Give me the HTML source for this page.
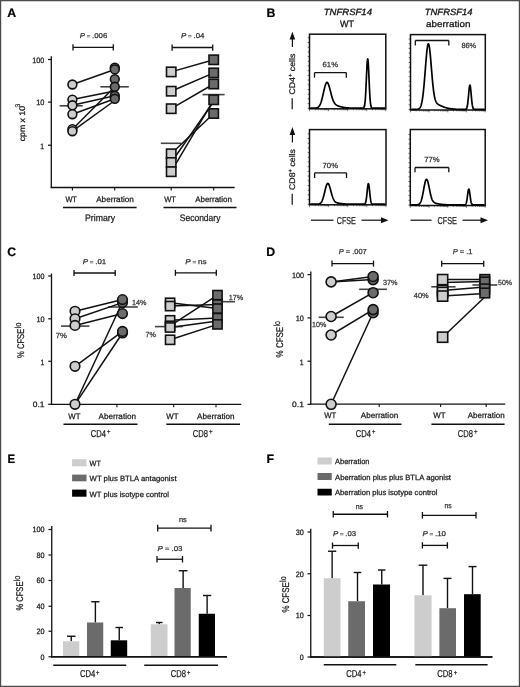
<!DOCTYPE html>
<html><head><meta charset="utf-8"><style>
html,body{margin:0;padding:0;background:#fff;overflow:hidden;width:520px;height:687px;}
svg{display:block;font-family:"Liberation Sans", sans-serif;filter:grayscale(1);text-rendering:geometricPrecision;}
</style></head><body>
<svg width="520" height="687" viewBox="0 0 520 687">
<rect x="0" y="0" width="520" height="687" fill="#fff"/>
<line x1="0.00" y1="0.60" x2="520.00" y2="0.60" stroke="#4a4a4a" stroke-width="1.2"/>
<line x1="0.60" y1="0.00" x2="0.60" y2="687.00" stroke="#4a4a4a" stroke-width="1.2"/>
<line x1="519.40" y1="0.00" x2="519.40" y2="687.00" stroke="#4a4a4a" stroke-width="1.2"/>
<line x1="0.00" y1="686.40" x2="520.00" y2="686.40" stroke="#4a4a4a" stroke-width="1.2"/>
<text transform="translate(7.2,16.9) scale(1,1)" font-size="12.3" font-weight="bold" fill="#000" stroke="#000" stroke-width="0.2">A</text>
<text transform="translate(266.4,17.0) scale(1,1)" font-size="12.3" font-weight="bold" fill="#000" stroke="#000" stroke-width="0.2">B</text>
<text transform="translate(7.2,255.6) scale(1,1)" font-size="12.3" font-weight="bold" fill="#000" stroke="#000" stroke-width="0.2">C</text>
<text transform="translate(266.3,255.6) scale(1,1)" font-size="12.3" font-weight="bold" fill="#000" stroke="#000" stroke-width="0.2">D</text>
<text transform="translate(7.5,462.8) scale(0.93,1)" font-size="12.3" font-weight="bold" fill="#000" stroke="#000" stroke-width="0.2">E</text>
<text transform="translate(266.4,462.8) scale(1,1)" font-size="12.3" font-weight="bold" fill="#000" stroke="#000" stroke-width="0.2">F</text>
<line x1="51.30" y1="56.30" x2="51.30" y2="188.10" stroke="#111" stroke-width="1.3"/>
<line x1="50.65" y1="187.50" x2="234.60" y2="187.50" stroke="#111" stroke-width="1.3"/>
<line x1="48.00" y1="59.50" x2="51.30" y2="59.50" stroke="#111" stroke-width="1.2"/>
<line x1="48.00" y1="102.10" x2="51.30" y2="102.10" stroke="#111" stroke-width="1.2"/>
<line x1="48.00" y1="145.20" x2="51.30" y2="145.20" stroke="#111" stroke-width="1.2"/>
<text x="32.30" y="62.80" font-size="7.8" fill="#1a1a1a" stroke="#1a1a1a" stroke-width="0.25" font-weight="normal" font-style="normal" textLength="12.10" lengthAdjust="spacingAndGlyphs">100</text>
<text x="36.20" y="105.40" font-size="7.8" fill="#1a1a1a" stroke="#1a1a1a" stroke-width="0.25" font-weight="normal" font-style="normal" textLength="8.20" lengthAdjust="spacingAndGlyphs">10</text>
<text x="40.20" y="148.50" font-size="7.8" fill="#1a1a1a" stroke="#1a1a1a" stroke-width="0.25" font-weight="normal" font-style="normal" textLength="3.80" lengthAdjust="spacingAndGlyphs">1</text>
<text transform="translate(24.60,141.30) rotate(-90)" x="0" y="0" font-size="8.2" fill="#1a1a1a" stroke="#1a1a1a" stroke-width="0.25" textLength="35.30" lengthAdjust="spacingAndGlyphs">cpm x 10</text>
<text transform="translate(20.3,107.6) rotate(-90)" font-size="6.8" fill="#1a1a1a" stroke="#1a1a1a" stroke-width="0.2">3</text>
<line x1="72.40" y1="187.50" x2="72.40" y2="190.60" stroke="#111" stroke-width="1.1"/>
<line x1="114.70" y1="187.50" x2="114.70" y2="190.60" stroke="#111" stroke-width="1.1"/>
<line x1="171.20" y1="187.50" x2="171.20" y2="190.60" stroke="#111" stroke-width="1.1"/>
<line x1="213.70" y1="187.50" x2="213.70" y2="190.60" stroke="#111" stroke-width="1.1"/>
<text x="65.40" y="202.10" font-size="8" fill="#1a1a1a" stroke="#1a1a1a" stroke-width="0.25" font-weight="normal" font-style="normal" textLength="11.50" lengthAdjust="spacingAndGlyphs">WT</text>
<text x="96.20" y="202.10" font-size="8" fill="#1a1a1a" stroke="#1a1a1a" stroke-width="0.25" font-weight="normal" font-style="normal" textLength="37.60" lengthAdjust="spacingAndGlyphs">Aberration</text>
<text x="164.20" y="202.10" font-size="8" fill="#1a1a1a" stroke="#1a1a1a" stroke-width="0.25" font-weight="normal" font-style="normal" textLength="11.80" lengthAdjust="spacingAndGlyphs">WT</text>
<text x="195.20" y="202.10" font-size="8" fill="#1a1a1a" stroke="#1a1a1a" stroke-width="0.25" font-weight="normal" font-style="normal" textLength="36.80" lengthAdjust="spacingAndGlyphs">Aberration</text>
<line x1="63.00" y1="207.60" x2="136.60" y2="207.60" stroke="#111" stroke-width="1.5"/>
<line x1="163.50" y1="207.60" x2="236.50" y2="207.60" stroke="#111" stroke-width="1.5"/>
<text x="85.00" y="220.50" font-size="9.4" fill="#1a1a1a" stroke="#1a1a1a" stroke-width="0.25" font-weight="normal" font-style="normal" textLength="30.00" lengthAdjust="spacingAndGlyphs">Primary</text>
<text x="179.80" y="220.50" font-size="9.4" fill="#1a1a1a" stroke="#1a1a1a" stroke-width="0.25" font-weight="normal" font-style="normal" textLength="40.60" lengthAdjust="spacingAndGlyphs">Secondary</text>
<text x="79.80" y="38.00" font-size="7" fill="#333" stroke="#333" stroke-width="0.25" textLength="27.50" lengthAdjust="spacingAndGlyphs"><tspan font-style="italic">P</tspan><tspan font-size="5.60" fill="#666" stroke="#666"> = </tspan>.006</text>
<text x="181.00" y="38.00" font-size="7" fill="#333" stroke="#333" stroke-width="0.25" textLength="23.40" lengthAdjust="spacingAndGlyphs"><tspan font-style="italic">P</tspan><tspan font-size="5.60" fill="#666" stroke="#666"> = </tspan>.04</text>
<line x1="73.00" y1="47.30" x2="113.30" y2="47.30" stroke="#111" stroke-width="1.3"/>
<line x1="73.00" y1="44.30" x2="73.00" y2="50.50" stroke="#111" stroke-width="1.3"/>
<line x1="113.30" y1="44.30" x2="113.30" y2="50.50" stroke="#111" stroke-width="1.3"/>
<line x1="172.10" y1="47.50" x2="212.70" y2="47.50" stroke="#111" stroke-width="1.3"/>
<line x1="172.10" y1="44.50" x2="172.10" y2="50.70" stroke="#111" stroke-width="1.3"/>
<line x1="212.70" y1="44.50" x2="212.70" y2="50.70" stroke="#111" stroke-width="1.3"/>
<line x1="59.60" y1="105.80" x2="82.70" y2="105.80" stroke="#444" stroke-width="1.6"/>
<line x1="100.40" y1="86.80" x2="128.80" y2="86.80" stroke="#444" stroke-width="1.6"/>
<line x1="72.40" y1="84.50" x2="114.80" y2="69.50" stroke="#111" stroke-width="1.5"/>
<line x1="72.40" y1="99.60" x2="114.80" y2="91.00" stroke="#111" stroke-width="1.5"/>
<line x1="72.40" y1="105.30" x2="114.80" y2="95.80" stroke="#111" stroke-width="1.5"/>
<line x1="72.40" y1="114.20" x2="114.80" y2="98.80" stroke="#111" stroke-width="1.5"/>
<line x1="72.40" y1="129.20" x2="114.80" y2="86.80" stroke="#111" stroke-width="1.5"/>
<line x1="72.40" y1="131.20" x2="114.80" y2="100.50" stroke="#111" stroke-width="1.5"/>
<circle cx="72.40" cy="84.50" r="4.4" fill="#cdcdcd" stroke="#111" stroke-width="1.6"/>
<circle cx="72.40" cy="99.60" r="4.4" fill="#cdcdcd" stroke="#111" stroke-width="1.6"/>
<circle cx="72.40" cy="105.30" r="4.4" fill="#cdcdcd" stroke="#111" stroke-width="1.6"/>
<circle cx="72.40" cy="114.20" r="4.4" fill="#cdcdcd" stroke="#111" stroke-width="1.6"/>
<circle cx="72.40" cy="129.20" r="4.4" fill="#cdcdcd" stroke="#111" stroke-width="1.6"/>
<circle cx="72.40" cy="131.20" r="4.4" fill="#cdcdcd" stroke="#111" stroke-width="1.6"/>
<circle cx="114.80" cy="67.60" r="4.4" fill="#6b6b6b" stroke="#111" stroke-width="1.6"/>
<circle cx="114.80" cy="69.40" r="4.4" fill="#6b6b6b" stroke="#111" stroke-width="1.6"/>
<circle cx="114.80" cy="79.10" r="4.4" fill="#6b6b6b" stroke="#111" stroke-width="1.6"/>
<circle cx="114.80" cy="86.80" r="4.4" fill="#6b6b6b" stroke="#111" stroke-width="1.6"/>
<circle cx="114.80" cy="95.80" r="4.4" fill="#6b6b6b" stroke="#111" stroke-width="1.6"/>
<circle cx="114.80" cy="98.80" r="4.4" fill="#6b6b6b" stroke="#111" stroke-width="1.6"/>
<line x1="160.80" y1="143.30" x2="181.30" y2="143.30" stroke="#444" stroke-width="1.6"/>
<line x1="202.50" y1="94.60" x2="224.60" y2="94.60" stroke="#444" stroke-width="1.6"/>
<line x1="171.20" y1="71.90" x2="213.70" y2="59.80" stroke="#111" stroke-width="1.5"/>
<line x1="171.20" y1="91.20" x2="213.70" y2="72.90" stroke="#111" stroke-width="1.5"/>
<line x1="171.20" y1="108.70" x2="213.70" y2="84.00" stroke="#111" stroke-width="1.5"/>
<line x1="171.20" y1="153.80" x2="213.70" y2="113.50" stroke="#111" stroke-width="1.5"/>
<line x1="171.20" y1="162.50" x2="213.70" y2="101.50" stroke="#111" stroke-width="1.5"/>
<line x1="171.20" y1="171.70" x2="213.70" y2="99.80" stroke="#111" stroke-width="1.5"/>
<rect x="166.50" y="67.20" width="9.4" height="9.4" fill="#cdcdcd" stroke="#111" stroke-width="1.6"/>
<rect x="166.50" y="86.50" width="9.4" height="9.4" fill="#cdcdcd" stroke="#111" stroke-width="1.6"/>
<rect x="166.50" y="104.00" width="9.4" height="9.4" fill="#cdcdcd" stroke="#111" stroke-width="1.6"/>
<rect x="166.50" y="149.10" width="9.4" height="9.4" fill="#cdcdcd" stroke="#111" stroke-width="1.6"/>
<rect x="166.50" y="157.80" width="9.4" height="9.4" fill="#cdcdcd" stroke="#111" stroke-width="1.6"/>
<rect x="166.50" y="167.00" width="9.4" height="9.4" fill="#cdcdcd" stroke="#111" stroke-width="1.6"/>
<rect x="209.00" y="55.10" width="9.4" height="9.4" fill="#6b6b6b" stroke="#111" stroke-width="1.6"/>
<rect x="209.00" y="68.20" width="9.4" height="9.4" fill="#6b6b6b" stroke="#111" stroke-width="1.6"/>
<rect x="209.00" y="79.30" width="9.4" height="9.4" fill="#6b6b6b" stroke="#111" stroke-width="1.6"/>
<rect x="209.00" y="95.10" width="9.4" height="9.4" fill="#6b6b6b" stroke="#111" stroke-width="1.6"/>
<rect x="209.00" y="108.80" width="9.4" height="9.4" fill="#6b6b6b" stroke="#111" stroke-width="1.6"/>
<g>
<text x="323.7" y="14.8" font-size="9" font-style="italic" fill="#111" stroke="#111" stroke-width="0.3" textLength="48.3" lengthAdjust="spacingAndGlyphs">TNFRSF14</text>
<text x="339.90" y="26.90" font-size="9.3" fill="#111" stroke="#111" stroke-width="0.25" font-weight="normal" font-style="normal" textLength="14.10" lengthAdjust="spacingAndGlyphs">WT</text>
<text x="424.8" y="15.0" font-size="9" font-style="italic" fill="#111" stroke="#111" stroke-width="0.3" textLength="47.7" lengthAdjust="spacingAndGlyphs">TNFRSF14</text>
<text x="426.00" y="27.00" font-size="9.0" fill="#111" stroke="#111" stroke-width="0.25" font-weight="normal" font-style="normal" textLength="44.50" lengthAdjust="spacingAndGlyphs">aberration</text>
<line x1="307.70" y1="108.30" x2="309.50" y2="108.30" stroke="#222" stroke-width="0.7"/>
<line x1="307.70" y1="103.60" x2="309.50" y2="103.60" stroke="#222" stroke-width="0.7"/>
<line x1="307.70" y1="98.90" x2="309.50" y2="98.90" stroke="#222" stroke-width="0.7"/>
<line x1="307.70" y1="94.20" x2="309.50" y2="94.20" stroke="#222" stroke-width="0.7"/>
<line x1="307.70" y1="89.50" x2="309.50" y2="89.50" stroke="#222" stroke-width="0.7"/>
<line x1="307.70" y1="84.80" x2="309.50" y2="84.80" stroke="#222" stroke-width="0.7"/>
<line x1="307.70" y1="80.10" x2="309.50" y2="80.10" stroke="#222" stroke-width="0.7"/>
<line x1="307.70" y1="75.40" x2="309.50" y2="75.40" stroke="#222" stroke-width="0.7"/>
<line x1="307.70" y1="70.70" x2="309.50" y2="70.70" stroke="#222" stroke-width="0.7"/>
<line x1="307.70" y1="66.00" x2="309.50" y2="66.00" stroke="#222" stroke-width="0.7"/>
<line x1="307.70" y1="61.30" x2="309.50" y2="61.30" stroke="#222" stroke-width="0.7"/>
<line x1="307.70" y1="56.60" x2="309.50" y2="56.60" stroke="#222" stroke-width="0.7"/>
<line x1="307.70" y1="51.90" x2="309.50" y2="51.90" stroke="#222" stroke-width="0.7"/>
<line x1="307.70" y1="47.20" x2="309.50" y2="47.20" stroke="#222" stroke-width="0.7"/>
<line x1="307.70" y1="42.50" x2="309.50" y2="42.50" stroke="#222" stroke-width="0.7"/>
<line x1="307.70" y1="37.80" x2="309.50" y2="37.80" stroke="#222" stroke-width="0.7"/>
<line x1="309.50" y1="108.80" x2="309.50" y2="111.20" stroke="#333" stroke-width="0.6"/>
<line x1="315.24" y1="108.80" x2="315.24" y2="110.30" stroke="#333" stroke-width="0.6"/>
<line x1="318.60" y1="108.80" x2="318.60" y2="110.30" stroke="#333" stroke-width="0.6"/>
<line x1="320.98" y1="108.80" x2="320.98" y2="110.30" stroke="#333" stroke-width="0.6"/>
<line x1="322.83" y1="108.80" x2="322.83" y2="110.30" stroke="#333" stroke-width="0.6"/>
<line x1="324.34" y1="108.80" x2="324.34" y2="110.30" stroke="#333" stroke-width="0.6"/>
<line x1="325.62" y1="108.80" x2="325.62" y2="110.30" stroke="#333" stroke-width="0.6"/>
<line x1="326.73" y1="108.80" x2="326.73" y2="110.30" stroke="#333" stroke-width="0.6"/>
<line x1="327.70" y1="108.80" x2="327.70" y2="110.30" stroke="#333" stroke-width="0.6"/>
<line x1="328.57" y1="108.80" x2="328.57" y2="111.20" stroke="#333" stroke-width="0.6"/>
<line x1="334.32" y1="108.80" x2="334.32" y2="110.30" stroke="#333" stroke-width="0.6"/>
<line x1="337.68" y1="108.80" x2="337.68" y2="110.30" stroke="#333" stroke-width="0.6"/>
<line x1="340.06" y1="108.80" x2="340.06" y2="110.30" stroke="#333" stroke-width="0.6"/>
<line x1="341.91" y1="108.80" x2="341.91" y2="110.30" stroke="#333" stroke-width="0.6"/>
<line x1="343.42" y1="108.80" x2="343.42" y2="110.30" stroke="#333" stroke-width="0.6"/>
<line x1="344.70" y1="108.80" x2="344.70" y2="110.30" stroke="#333" stroke-width="0.6"/>
<line x1="345.80" y1="108.80" x2="345.80" y2="110.30" stroke="#333" stroke-width="0.6"/>
<line x1="346.78" y1="108.80" x2="346.78" y2="110.30" stroke="#333" stroke-width="0.6"/>
<line x1="347.65" y1="108.80" x2="347.65" y2="111.20" stroke="#333" stroke-width="0.6"/>
<line x1="353.39" y1="108.80" x2="353.39" y2="110.30" stroke="#333" stroke-width="0.6"/>
<line x1="356.75" y1="108.80" x2="356.75" y2="110.30" stroke="#333" stroke-width="0.6"/>
<line x1="359.13" y1="108.80" x2="359.13" y2="110.30" stroke="#333" stroke-width="0.6"/>
<line x1="360.98" y1="108.80" x2="360.98" y2="110.30" stroke="#333" stroke-width="0.6"/>
<line x1="362.49" y1="108.80" x2="362.49" y2="110.30" stroke="#333" stroke-width="0.6"/>
<line x1="363.77" y1="108.80" x2="363.77" y2="110.30" stroke="#333" stroke-width="0.6"/>
<line x1="364.88" y1="108.80" x2="364.88" y2="110.30" stroke="#333" stroke-width="0.6"/>
<line x1="365.85" y1="108.80" x2="365.85" y2="110.30" stroke="#333" stroke-width="0.6"/>
<line x1="366.73" y1="108.80" x2="366.73" y2="111.20" stroke="#333" stroke-width="0.6"/>
<line x1="372.47" y1="108.80" x2="372.47" y2="110.30" stroke="#333" stroke-width="0.6"/>
<line x1="375.83" y1="108.80" x2="375.83" y2="110.30" stroke="#333" stroke-width="0.6"/>
<line x1="378.21" y1="108.80" x2="378.21" y2="110.30" stroke="#333" stroke-width="0.6"/>
<line x1="380.06" y1="108.80" x2="380.06" y2="110.30" stroke="#333" stroke-width="0.6"/>
<line x1="381.57" y1="108.80" x2="381.57" y2="110.30" stroke="#333" stroke-width="0.6"/>
<line x1="382.85" y1="108.80" x2="382.85" y2="110.30" stroke="#333" stroke-width="0.6"/>
<line x1="383.95" y1="108.80" x2="383.95" y2="110.30" stroke="#333" stroke-width="0.6"/>
<line x1="384.93" y1="108.80" x2="384.93" y2="110.30" stroke="#333" stroke-width="0.6"/>
<line x1="385.80" y1="108.80" x2="385.80" y2="111.20" stroke="#333" stroke-width="0.6"/>
<rect x="309.50" y="34.20" width="76.30" height="74.60" fill="none" stroke="#111" stroke-width="1.5"/>
<line x1="408.70" y1="109.50" x2="410.50" y2="109.50" stroke="#222" stroke-width="0.7"/>
<line x1="408.70" y1="104.80" x2="410.50" y2="104.80" stroke="#222" stroke-width="0.7"/>
<line x1="408.70" y1="100.10" x2="410.50" y2="100.10" stroke="#222" stroke-width="0.7"/>
<line x1="408.70" y1="95.40" x2="410.50" y2="95.40" stroke="#222" stroke-width="0.7"/>
<line x1="408.70" y1="90.70" x2="410.50" y2="90.70" stroke="#222" stroke-width="0.7"/>
<line x1="408.70" y1="86.00" x2="410.50" y2="86.00" stroke="#222" stroke-width="0.7"/>
<line x1="408.70" y1="81.30" x2="410.50" y2="81.30" stroke="#222" stroke-width="0.7"/>
<line x1="408.70" y1="76.60" x2="410.50" y2="76.60" stroke="#222" stroke-width="0.7"/>
<line x1="408.70" y1="71.90" x2="410.50" y2="71.90" stroke="#222" stroke-width="0.7"/>
<line x1="408.70" y1="67.20" x2="410.50" y2="67.20" stroke="#222" stroke-width="0.7"/>
<line x1="408.70" y1="62.50" x2="410.50" y2="62.50" stroke="#222" stroke-width="0.7"/>
<line x1="408.70" y1="57.80" x2="410.50" y2="57.80" stroke="#222" stroke-width="0.7"/>
<line x1="408.70" y1="53.10" x2="410.50" y2="53.10" stroke="#222" stroke-width="0.7"/>
<line x1="408.70" y1="48.40" x2="410.50" y2="48.40" stroke="#222" stroke-width="0.7"/>
<line x1="408.70" y1="43.70" x2="410.50" y2="43.70" stroke="#222" stroke-width="0.7"/>
<line x1="408.70" y1="39.00" x2="410.50" y2="39.00" stroke="#222" stroke-width="0.7"/>
<line x1="410.50" y1="110.00" x2="410.50" y2="112.40" stroke="#333" stroke-width="0.6"/>
<line x1="416.13" y1="110.00" x2="416.13" y2="111.50" stroke="#333" stroke-width="0.6"/>
<line x1="419.42" y1="110.00" x2="419.42" y2="111.50" stroke="#333" stroke-width="0.6"/>
<line x1="421.76" y1="110.00" x2="421.76" y2="111.50" stroke="#333" stroke-width="0.6"/>
<line x1="423.57" y1="110.00" x2="423.57" y2="111.50" stroke="#333" stroke-width="0.6"/>
<line x1="425.05" y1="110.00" x2="425.05" y2="111.50" stroke="#333" stroke-width="0.6"/>
<line x1="426.30" y1="110.00" x2="426.30" y2="111.50" stroke="#333" stroke-width="0.6"/>
<line x1="427.39" y1="110.00" x2="427.39" y2="111.50" stroke="#333" stroke-width="0.6"/>
<line x1="428.34" y1="110.00" x2="428.34" y2="111.50" stroke="#333" stroke-width="0.6"/>
<line x1="429.20" y1="110.00" x2="429.20" y2="112.40" stroke="#333" stroke-width="0.6"/>
<line x1="434.83" y1="110.00" x2="434.83" y2="111.50" stroke="#333" stroke-width="0.6"/>
<line x1="438.12" y1="110.00" x2="438.12" y2="111.50" stroke="#333" stroke-width="0.6"/>
<line x1="440.46" y1="110.00" x2="440.46" y2="111.50" stroke="#333" stroke-width="0.6"/>
<line x1="442.27" y1="110.00" x2="442.27" y2="111.50" stroke="#333" stroke-width="0.6"/>
<line x1="443.75" y1="110.00" x2="443.75" y2="111.50" stroke="#333" stroke-width="0.6"/>
<line x1="445.00" y1="110.00" x2="445.00" y2="111.50" stroke="#333" stroke-width="0.6"/>
<line x1="446.09" y1="110.00" x2="446.09" y2="111.50" stroke="#333" stroke-width="0.6"/>
<line x1="447.04" y1="110.00" x2="447.04" y2="111.50" stroke="#333" stroke-width="0.6"/>
<line x1="447.90" y1="110.00" x2="447.90" y2="112.40" stroke="#333" stroke-width="0.6"/>
<line x1="453.53" y1="110.00" x2="453.53" y2="111.50" stroke="#333" stroke-width="0.6"/>
<line x1="456.82" y1="110.00" x2="456.82" y2="111.50" stroke="#333" stroke-width="0.6"/>
<line x1="459.16" y1="110.00" x2="459.16" y2="111.50" stroke="#333" stroke-width="0.6"/>
<line x1="460.97" y1="110.00" x2="460.97" y2="111.50" stroke="#333" stroke-width="0.6"/>
<line x1="462.45" y1="110.00" x2="462.45" y2="111.50" stroke="#333" stroke-width="0.6"/>
<line x1="463.70" y1="110.00" x2="463.70" y2="111.50" stroke="#333" stroke-width="0.6"/>
<line x1="464.79" y1="110.00" x2="464.79" y2="111.50" stroke="#333" stroke-width="0.6"/>
<line x1="465.74" y1="110.00" x2="465.74" y2="111.50" stroke="#333" stroke-width="0.6"/>
<line x1="466.60" y1="110.00" x2="466.60" y2="112.40" stroke="#333" stroke-width="0.6"/>
<line x1="472.23" y1="110.00" x2="472.23" y2="111.50" stroke="#333" stroke-width="0.6"/>
<line x1="475.52" y1="110.00" x2="475.52" y2="111.50" stroke="#333" stroke-width="0.6"/>
<line x1="477.86" y1="110.00" x2="477.86" y2="111.50" stroke="#333" stroke-width="0.6"/>
<line x1="479.67" y1="110.00" x2="479.67" y2="111.50" stroke="#333" stroke-width="0.6"/>
<line x1="481.15" y1="110.00" x2="481.15" y2="111.50" stroke="#333" stroke-width="0.6"/>
<line x1="482.40" y1="110.00" x2="482.40" y2="111.50" stroke="#333" stroke-width="0.6"/>
<line x1="483.49" y1="110.00" x2="483.49" y2="111.50" stroke="#333" stroke-width="0.6"/>
<line x1="484.44" y1="110.00" x2="484.44" y2="111.50" stroke="#333" stroke-width="0.6"/>
<line x1="485.30" y1="110.00" x2="485.30" y2="112.40" stroke="#333" stroke-width="0.6"/>
<rect x="410.50" y="34.60" width="74.80" height="75.40" fill="none" stroke="#111" stroke-width="1.5"/>
<line x1="307.70" y1="204.30" x2="309.50" y2="204.30" stroke="#222" stroke-width="0.7"/>
<line x1="307.70" y1="199.60" x2="309.50" y2="199.60" stroke="#222" stroke-width="0.7"/>
<line x1="307.70" y1="194.90" x2="309.50" y2="194.90" stroke="#222" stroke-width="0.7"/>
<line x1="307.70" y1="190.20" x2="309.50" y2="190.20" stroke="#222" stroke-width="0.7"/>
<line x1="307.70" y1="185.50" x2="309.50" y2="185.50" stroke="#222" stroke-width="0.7"/>
<line x1="307.70" y1="180.80" x2="309.50" y2="180.80" stroke="#222" stroke-width="0.7"/>
<line x1="307.70" y1="176.10" x2="309.50" y2="176.10" stroke="#222" stroke-width="0.7"/>
<line x1="307.70" y1="171.40" x2="309.50" y2="171.40" stroke="#222" stroke-width="0.7"/>
<line x1="307.70" y1="166.70" x2="309.50" y2="166.70" stroke="#222" stroke-width="0.7"/>
<line x1="307.70" y1="162.00" x2="309.50" y2="162.00" stroke="#222" stroke-width="0.7"/>
<line x1="307.70" y1="157.30" x2="309.50" y2="157.30" stroke="#222" stroke-width="0.7"/>
<line x1="307.70" y1="152.60" x2="309.50" y2="152.60" stroke="#222" stroke-width="0.7"/>
<line x1="307.70" y1="147.90" x2="309.50" y2="147.90" stroke="#222" stroke-width="0.7"/>
<line x1="307.70" y1="143.20" x2="309.50" y2="143.20" stroke="#222" stroke-width="0.7"/>
<line x1="307.70" y1="138.50" x2="309.50" y2="138.50" stroke="#222" stroke-width="0.7"/>
<line x1="307.70" y1="133.80" x2="309.50" y2="133.80" stroke="#222" stroke-width="0.7"/>
<line x1="309.50" y1="204.80" x2="309.50" y2="207.20" stroke="#333" stroke-width="0.6"/>
<line x1="315.26" y1="204.80" x2="315.26" y2="206.30" stroke="#333" stroke-width="0.6"/>
<line x1="318.62" y1="204.80" x2="318.62" y2="206.30" stroke="#333" stroke-width="0.6"/>
<line x1="321.01" y1="204.80" x2="321.01" y2="206.30" stroke="#333" stroke-width="0.6"/>
<line x1="322.87" y1="204.80" x2="322.87" y2="206.30" stroke="#333" stroke-width="0.6"/>
<line x1="324.38" y1="204.80" x2="324.38" y2="206.30" stroke="#333" stroke-width="0.6"/>
<line x1="325.66" y1="204.80" x2="325.66" y2="206.30" stroke="#333" stroke-width="0.6"/>
<line x1="326.77" y1="204.80" x2="326.77" y2="206.30" stroke="#333" stroke-width="0.6"/>
<line x1="327.75" y1="204.80" x2="327.75" y2="206.30" stroke="#333" stroke-width="0.6"/>
<line x1="328.62" y1="204.80" x2="328.62" y2="207.20" stroke="#333" stroke-width="0.6"/>
<line x1="334.38" y1="204.80" x2="334.38" y2="206.30" stroke="#333" stroke-width="0.6"/>
<line x1="337.75" y1="204.80" x2="337.75" y2="206.30" stroke="#333" stroke-width="0.6"/>
<line x1="340.14" y1="204.80" x2="340.14" y2="206.30" stroke="#333" stroke-width="0.6"/>
<line x1="341.99" y1="204.80" x2="341.99" y2="206.30" stroke="#333" stroke-width="0.6"/>
<line x1="343.51" y1="204.80" x2="343.51" y2="206.30" stroke="#333" stroke-width="0.6"/>
<line x1="344.79" y1="204.80" x2="344.79" y2="206.30" stroke="#333" stroke-width="0.6"/>
<line x1="345.90" y1="204.80" x2="345.90" y2="206.30" stroke="#333" stroke-width="0.6"/>
<line x1="346.87" y1="204.80" x2="346.87" y2="206.30" stroke="#333" stroke-width="0.6"/>
<line x1="347.75" y1="204.80" x2="347.75" y2="207.20" stroke="#333" stroke-width="0.6"/>
<line x1="353.51" y1="204.80" x2="353.51" y2="206.30" stroke="#333" stroke-width="0.6"/>
<line x1="356.87" y1="204.80" x2="356.87" y2="206.30" stroke="#333" stroke-width="0.6"/>
<line x1="359.26" y1="204.80" x2="359.26" y2="206.30" stroke="#333" stroke-width="0.6"/>
<line x1="361.12" y1="204.80" x2="361.12" y2="206.30" stroke="#333" stroke-width="0.6"/>
<line x1="362.63" y1="204.80" x2="362.63" y2="206.30" stroke="#333" stroke-width="0.6"/>
<line x1="363.91" y1="204.80" x2="363.91" y2="206.30" stroke="#333" stroke-width="0.6"/>
<line x1="365.02" y1="204.80" x2="365.02" y2="206.30" stroke="#333" stroke-width="0.6"/>
<line x1="366.00" y1="204.80" x2="366.00" y2="206.30" stroke="#333" stroke-width="0.6"/>
<line x1="366.88" y1="204.80" x2="366.88" y2="207.20" stroke="#333" stroke-width="0.6"/>
<line x1="372.63" y1="204.80" x2="372.63" y2="206.30" stroke="#333" stroke-width="0.6"/>
<line x1="376.00" y1="204.80" x2="376.00" y2="206.30" stroke="#333" stroke-width="0.6"/>
<line x1="378.39" y1="204.80" x2="378.39" y2="206.30" stroke="#333" stroke-width="0.6"/>
<line x1="380.24" y1="204.80" x2="380.24" y2="206.30" stroke="#333" stroke-width="0.6"/>
<line x1="381.76" y1="204.80" x2="381.76" y2="206.30" stroke="#333" stroke-width="0.6"/>
<line x1="383.04" y1="204.80" x2="383.04" y2="206.30" stroke="#333" stroke-width="0.6"/>
<line x1="384.15" y1="204.80" x2="384.15" y2="206.30" stroke="#333" stroke-width="0.6"/>
<line x1="385.12" y1="204.80" x2="385.12" y2="206.30" stroke="#333" stroke-width="0.6"/>
<line x1="386.00" y1="204.80" x2="386.00" y2="207.20" stroke="#333" stroke-width="0.6"/>
<rect x="309.50" y="129.60" width="76.50" height="75.20" fill="none" stroke="#111" stroke-width="1.5"/>
<line x1="408.50" y1="205.00" x2="410.30" y2="205.00" stroke="#222" stroke-width="0.7"/>
<line x1="408.50" y1="200.30" x2="410.30" y2="200.30" stroke="#222" stroke-width="0.7"/>
<line x1="408.50" y1="195.60" x2="410.30" y2="195.60" stroke="#222" stroke-width="0.7"/>
<line x1="408.50" y1="190.90" x2="410.30" y2="190.90" stroke="#222" stroke-width="0.7"/>
<line x1="408.50" y1="186.20" x2="410.30" y2="186.20" stroke="#222" stroke-width="0.7"/>
<line x1="408.50" y1="181.50" x2="410.30" y2="181.50" stroke="#222" stroke-width="0.7"/>
<line x1="408.50" y1="176.80" x2="410.30" y2="176.80" stroke="#222" stroke-width="0.7"/>
<line x1="408.50" y1="172.10" x2="410.30" y2="172.10" stroke="#222" stroke-width="0.7"/>
<line x1="408.50" y1="167.40" x2="410.30" y2="167.40" stroke="#222" stroke-width="0.7"/>
<line x1="408.50" y1="162.70" x2="410.30" y2="162.70" stroke="#222" stroke-width="0.7"/>
<line x1="408.50" y1="158.00" x2="410.30" y2="158.00" stroke="#222" stroke-width="0.7"/>
<line x1="408.50" y1="153.30" x2="410.30" y2="153.30" stroke="#222" stroke-width="0.7"/>
<line x1="408.50" y1="148.60" x2="410.30" y2="148.60" stroke="#222" stroke-width="0.7"/>
<line x1="408.50" y1="143.90" x2="410.30" y2="143.90" stroke="#222" stroke-width="0.7"/>
<line x1="408.50" y1="139.20" x2="410.30" y2="139.20" stroke="#222" stroke-width="0.7"/>
<line x1="408.50" y1="134.50" x2="410.30" y2="134.50" stroke="#222" stroke-width="0.7"/>
<line x1="410.30" y1="205.50" x2="410.30" y2="207.90" stroke="#333" stroke-width="0.6"/>
<line x1="415.94" y1="205.50" x2="415.94" y2="207.00" stroke="#333" stroke-width="0.6"/>
<line x1="419.23" y1="205.50" x2="419.23" y2="207.00" stroke="#333" stroke-width="0.6"/>
<line x1="421.57" y1="205.50" x2="421.57" y2="207.00" stroke="#333" stroke-width="0.6"/>
<line x1="423.39" y1="205.50" x2="423.39" y2="207.00" stroke="#333" stroke-width="0.6"/>
<line x1="424.87" y1="205.50" x2="424.87" y2="207.00" stroke="#333" stroke-width="0.6"/>
<line x1="426.12" y1="205.50" x2="426.12" y2="207.00" stroke="#333" stroke-width="0.6"/>
<line x1="427.21" y1="205.50" x2="427.21" y2="207.00" stroke="#333" stroke-width="0.6"/>
<line x1="428.17" y1="205.50" x2="428.17" y2="207.00" stroke="#333" stroke-width="0.6"/>
<line x1="429.02" y1="205.50" x2="429.02" y2="207.90" stroke="#333" stroke-width="0.6"/>
<line x1="434.66" y1="205.50" x2="434.66" y2="207.00" stroke="#333" stroke-width="0.6"/>
<line x1="437.96" y1="205.50" x2="437.96" y2="207.00" stroke="#333" stroke-width="0.6"/>
<line x1="440.30" y1="205.50" x2="440.30" y2="207.00" stroke="#333" stroke-width="0.6"/>
<line x1="442.11" y1="205.50" x2="442.11" y2="207.00" stroke="#333" stroke-width="0.6"/>
<line x1="443.60" y1="205.50" x2="443.60" y2="207.00" stroke="#333" stroke-width="0.6"/>
<line x1="444.85" y1="205.50" x2="444.85" y2="207.00" stroke="#333" stroke-width="0.6"/>
<line x1="445.94" y1="205.50" x2="445.94" y2="207.00" stroke="#333" stroke-width="0.6"/>
<line x1="446.89" y1="205.50" x2="446.89" y2="207.00" stroke="#333" stroke-width="0.6"/>
<line x1="447.75" y1="205.50" x2="447.75" y2="207.90" stroke="#333" stroke-width="0.6"/>
<line x1="453.39" y1="205.50" x2="453.39" y2="207.00" stroke="#333" stroke-width="0.6"/>
<line x1="456.68" y1="205.50" x2="456.68" y2="207.00" stroke="#333" stroke-width="0.6"/>
<line x1="459.02" y1="205.50" x2="459.02" y2="207.00" stroke="#333" stroke-width="0.6"/>
<line x1="460.84" y1="205.50" x2="460.84" y2="207.00" stroke="#333" stroke-width="0.6"/>
<line x1="462.32" y1="205.50" x2="462.32" y2="207.00" stroke="#333" stroke-width="0.6"/>
<line x1="463.57" y1="205.50" x2="463.57" y2="207.00" stroke="#333" stroke-width="0.6"/>
<line x1="464.66" y1="205.50" x2="464.66" y2="207.00" stroke="#333" stroke-width="0.6"/>
<line x1="465.62" y1="205.50" x2="465.62" y2="207.00" stroke="#333" stroke-width="0.6"/>
<line x1="466.48" y1="205.50" x2="466.48" y2="207.90" stroke="#333" stroke-width="0.6"/>
<line x1="472.11" y1="205.50" x2="472.11" y2="207.00" stroke="#333" stroke-width="0.6"/>
<line x1="475.41" y1="205.50" x2="475.41" y2="207.00" stroke="#333" stroke-width="0.6"/>
<line x1="477.75" y1="205.50" x2="477.75" y2="207.00" stroke="#333" stroke-width="0.6"/>
<line x1="479.56" y1="205.50" x2="479.56" y2="207.00" stroke="#333" stroke-width="0.6"/>
<line x1="481.05" y1="205.50" x2="481.05" y2="207.00" stroke="#333" stroke-width="0.6"/>
<line x1="482.30" y1="205.50" x2="482.30" y2="207.00" stroke="#333" stroke-width="0.6"/>
<line x1="483.39" y1="205.50" x2="483.39" y2="207.00" stroke="#333" stroke-width="0.6"/>
<line x1="484.34" y1="205.50" x2="484.34" y2="207.00" stroke="#333" stroke-width="0.6"/>
<line x1="485.20" y1="205.50" x2="485.20" y2="207.90" stroke="#333" stroke-width="0.6"/>
<rect x="410.30" y="129.50" width="74.90" height="76.00" fill="none" stroke="#111" stroke-width="1.5"/>
<path d="M310.30,108.20 L310.55,108.20 L310.80,108.20 L311.05,108.20 L311.30,108.20 L311.55,108.20 L311.80,108.20 L312.05,108.20 L312.31,108.20 L312.56,108.19 L312.81,108.19 L313.06,108.19 L313.31,108.19 L313.56,108.18 L313.81,108.18 L314.06,108.17 L314.31,108.16 L314.56,108.15 L314.81,108.14 L315.06,108.12 L315.31,108.10 L315.56,108.08 L315.81,108.04 L316.07,108.00 L316.32,107.96 L316.57,107.90 L316.82,107.83 L317.07,107.74 L317.32,107.64 L317.57,107.52 L317.82,107.37 L318.07,107.20 L318.32,107.01 L318.57,106.78 L318.82,106.52 L319.07,106.21 L319.32,105.87 L319.57,105.48 L319.83,105.04 L320.08,104.55 L320.33,104.01 L320.58,103.41 L320.83,102.75 L321.08,102.03 L321.33,101.26 L321.58,100.42 L321.83,99.53 L322.08,98.59 L322.33,97.60 L322.58,96.57 L322.83,95.50 L323.08,94.40 L323.33,93.29 L323.59,92.17 L323.84,91.05 L324.09,89.95 L324.34,88.88 L324.59,87.85 L324.84,86.88 L325.09,85.97 L325.34,85.14 L325.59,84.41 L325.84,83.78 L326.09,83.25 L326.34,82.85 L326.59,82.57 L326.84,82.43 L327.09,82.41 L327.35,82.51 L327.60,82.73 L327.85,83.07 L328.10,83.51 L328.35,84.05 L328.60,84.69 L328.85,85.41 L329.10,86.20 L329.35,87.05 L329.60,87.96 L329.85,88.90 L330.10,89.87 L330.35,90.86 L330.60,91.85 L330.86,92.84 L331.11,93.81 L331.36,94.76 L331.61,95.68 L331.86,96.56 L332.11,97.40 L332.36,98.20 L332.61,98.95 L332.86,99.65 L333.11,100.31 L333.36,100.91 L333.61,101.46 L333.86,101.97 L334.11,102.43 L334.36,102.85 L334.62,103.23 L334.87,103.57 L335.12,103.88 L335.37,104.16 L335.62,104.41 L335.87,104.64 L336.12,104.84 L336.37,105.02 L336.62,105.19 L336.87,105.34 L337.12,105.48 L337.37,105.61 L337.62,105.73 L337.87,105.83 L338.12,105.94 L338.38,106.03 L338.63,106.12 L338.88,106.21 L339.13,106.29 L339.38,106.37 L339.63,106.44 L339.88,106.52 L340.13,106.59 L340.38,106.65 L340.63,106.72 L340.88,106.78 L341.13,106.84 L341.38,106.90 L341.63,106.96 L341.88,107.02 L342.14,107.07 L342.39,107.12 L342.64,107.17 L342.89,107.22 L343.14,107.27 L343.39,107.31 L343.64,107.36 L343.89,107.40 L344.14,107.44 L344.39,107.48 L344.64,107.52 L344.89,107.56 L345.14,107.59 L345.39,107.62 L345.64,107.66 L345.90,107.69 L346.15,107.72 L346.40,107.74 L346.65,107.77 L346.90,107.80 L347.15,107.82 L347.40,107.84 L347.65,107.87 L347.90,107.89 L348.15,107.91 L348.40,107.93 L348.65,107.94 L348.90,107.96 L349.15,107.98 L349.40,107.99 L349.66,108.00 L349.91,108.02 L350.16,108.03 L350.41,108.04 L350.66,108.05 L350.91,108.06 L351.16,108.07 L351.41,108.08 L351.66,108.09 L351.91,108.10 L352.16,108.11 L352.41,108.11 L352.66,108.12 L352.91,108.13 L353.16,108.13 L353.42,108.14 L353.67,108.14 L353.92,108.15 L354.17,108.15 L354.42,108.16 L354.67,108.16 L354.92,108.16 L355.17,108.17 L355.42,108.17 L355.67,108.17 L355.92,108.17 L356.17,108.18 L356.42,108.18 L356.67,108.18 L356.92,108.18 L357.18,108.18 L357.43,108.18 L357.68,108.19 L357.93,108.19 L358.18,108.19 L358.43,108.19 L358.68,108.19 L358.93,108.19 L359.18,108.19 L359.43,108.19 L359.68,108.19 L359.93,108.19 L360.18,108.19 L360.43,108.20 L360.68,108.20 L360.94,108.20 L361.19,108.20 L361.44,108.20 L361.69,108.20 L361.94,108.19 L362.19,108.19 L362.44,108.18 L362.69,108.17 L362.94,108.14 L363.19,108.08 L363.44,107.97 L363.69,107.77 L363.94,107.44 L364.19,106.90 L364.44,106.05 L364.70,104.79 L364.95,102.97 L365.20,100.48 L365.45,97.21 L365.70,93.13 L365.95,88.30 L366.20,82.87 L366.45,77.14 L366.70,71.50 L366.95,66.43 L367.20,62.38 L367.45,59.78 L367.70,58.90 L367.95,59.83 L368.21,62.48 L368.46,66.56 L368.71,71.66 L368.96,77.31 L369.21,83.04 L369.46,88.45 L369.71,93.26 L369.96,97.32 L370.21,100.56 L370.46,103.03 L370.71,104.83 L370.96,106.09 L371.21,106.92 L371.46,107.45 L371.71,107.78 L371.97,107.97 L372.22,108.08 L372.47,108.14 L372.72,108.17 L372.97,108.19 L373.22,108.19 L373.47,108.20 L373.72,108.20 L373.97,108.20 L374.22,108.20 L374.47,108.20 L374.72,108.20 L374.97,108.20 L375.22,108.20 L375.47,108.20 L375.73,108.20 L375.98,108.20 L376.23,108.20 L376.48,108.20 L376.73,108.20 L376.98,108.20 L377.23,108.20 L377.48,108.20 L377.73,108.20 L377.98,108.20 L378.23,108.20 L378.48,108.20 L378.73,108.20 L378.98,108.20 L379.23,108.20 L379.49,108.20 L379.74,108.20 L379.99,108.20 L380.24,108.20 L380.49,108.20 L380.74,108.20 L380.99,108.20 L381.24,108.20 L381.49,108.20 L381.74,108.20 L381.99,108.20 L382.24,108.20 L382.49,108.20 L382.74,108.20 L382.99,108.20 L383.25,108.20 L383.50,108.20 L383.75,108.20 L384.00,108.20 L384.25,108.20 L384.50,108.20 L384.75,108.20 L385.00,108.20" fill="none" stroke="#000" stroke-width="1.7" stroke-linejoin="round"/>
<path d="M411.30,109.40 L411.55,109.40 L411.80,109.40 L412.05,109.40 L412.30,109.40 L412.55,109.40 L412.80,109.40 L413.05,109.40 L413.31,109.40 L413.56,109.40 L413.81,109.40 L414.06,109.40 L414.31,109.40 L414.56,109.40 L414.81,109.40 L415.06,109.39 L415.31,109.39 L415.56,109.39 L415.81,109.38 L416.06,109.38 L416.31,109.37 L416.56,109.36 L416.82,109.34 L417.07,109.32 L417.32,109.29 L417.57,109.25 L417.82,109.21 L418.07,109.15 L418.32,109.07 L418.57,108.97 L418.82,108.85 L419.07,108.69 L419.32,108.50 L419.57,108.26 L419.82,107.97 L420.07,107.62 L420.32,107.20 L420.58,106.69 L420.83,106.08 L421.08,105.37 L421.33,104.54 L421.58,103.57 L421.83,102.46 L422.08,101.19 L422.33,99.75 L422.58,98.13 L422.83,96.33 L423.08,94.34 L423.33,92.15 L423.58,89.78 L423.83,87.22 L424.08,84.50 L424.34,81.63 L424.59,78.62 L424.84,75.51 L425.09,72.33 L425.34,69.12 L425.59,65.91 L425.84,62.76 L426.09,59.70 L426.34,56.78 L426.59,54.06 L426.84,51.58 L427.09,49.38 L427.34,47.50 L427.59,45.98 L427.85,44.84 L428.10,44.11 L428.35,43.81 L428.60,43.93 L428.85,44.49 L429.10,45.47 L429.35,46.85 L429.60,48.59 L429.85,50.67 L430.10,53.04 L430.35,55.65 L430.60,58.45 L430.85,61.40 L431.10,64.44 L431.35,67.51 L431.61,70.58 L431.86,73.61 L432.11,76.55 L432.36,79.37 L432.61,82.05 L432.86,84.57 L433.11,86.91 L433.36,89.07 L433.61,91.04 L433.86,92.82 L434.11,94.42 L434.36,95.84 L434.61,97.10 L434.86,98.20 L435.12,99.16 L435.37,100.00 L435.62,100.72 L435.87,101.35 L436.12,101.88 L436.37,102.35 L436.62,102.74 L436.87,103.09 L437.12,103.39 L437.37,103.65 L437.62,103.89 L437.87,104.10 L438.12,104.28 L438.37,104.46 L438.62,104.62 L438.88,104.77 L439.13,104.91 L439.38,105.05 L439.63,105.18 L439.88,105.30 L440.13,105.43 L440.38,105.55 L440.63,105.67 L440.88,105.78 L441.13,105.90 L441.38,106.01 L441.63,106.12 L441.88,106.23 L442.13,106.33 L442.38,106.44 L442.64,106.54 L442.89,106.64 L443.14,106.74 L443.39,106.84 L443.64,106.93 L443.89,107.03 L444.14,107.12 L444.39,107.21 L444.64,107.29 L444.89,107.38 L445.14,107.46 L445.39,107.54 L445.64,107.62 L445.89,107.70 L446.15,107.77 L446.40,107.84 L446.65,107.91 L446.90,107.98 L447.15,108.04 L447.40,108.10 L447.65,108.17 L447.90,108.22 L448.15,108.28 L448.40,108.33 L448.65,108.39 L448.90,108.44 L449.15,108.49 L449.40,108.53 L449.65,108.58 L449.91,108.62 L450.16,108.66 L450.41,108.70 L450.66,108.74 L450.91,108.77 L451.16,108.81 L451.41,108.84 L451.66,108.87 L451.91,108.90 L452.16,108.93 L452.41,108.96 L452.66,108.99 L452.91,109.01 L453.16,109.03 L453.42,109.06 L453.67,109.08 L453.92,109.10 L454.17,109.12 L454.42,109.13 L454.67,109.15 L454.92,109.17 L455.17,109.18 L455.42,109.20 L455.67,109.21 L455.92,109.22 L456.17,109.23 L456.42,109.24 L456.67,109.26 L456.92,109.27 L457.18,109.27 L457.43,109.28 L457.68,109.29 L457.93,109.30 L458.18,109.31 L458.43,109.31 L458.68,109.32 L458.93,109.33 L459.18,109.33 L459.43,109.34 L459.68,109.34 L459.93,109.35 L460.18,109.35 L460.43,109.35 L460.68,109.36 L460.94,109.36 L461.19,109.36 L461.44,109.37 L461.69,109.37 L461.94,109.37 L462.19,109.37 L462.44,109.38 L462.69,109.38 L462.94,109.38 L463.19,109.38 L463.44,109.38 L463.69,109.38 L463.94,109.39 L464.19,109.39 L464.45,109.38 L464.70,109.38 L464.95,109.37 L465.20,109.36 L465.45,109.32 L465.70,109.26 L465.95,109.15 L466.20,108.97 L466.45,108.68 L466.70,108.22 L466.95,107.54 L467.20,106.57 L467.45,105.26 L467.70,103.56 L467.95,101.46 L468.21,99.01 L468.46,96.28 L468.71,93.45 L468.96,90.71 L469.21,88.31 L469.46,86.46 L469.71,85.36 L469.96,85.12 L470.21,85.78 L470.46,87.26 L470.71,89.41 L470.96,92.00 L471.21,94.82 L471.46,97.62 L471.72,100.23 L471.97,102.52 L472.22,104.43 L472.47,105.94 L472.72,107.08 L472.97,107.90 L473.22,108.47 L473.47,108.84 L473.72,109.08 L473.97,109.22 L474.22,109.30 L474.47,109.35 L474.72,109.37 L474.97,109.39 L475.22,109.39 L475.48,109.40 L475.73,109.40 L475.98,109.40 L476.23,109.40 L476.48,109.40 L476.73,109.40 L476.98,109.40 L477.23,109.40 L477.48,109.40 L477.73,109.40 L477.98,109.40 L478.23,109.40 L478.48,109.40 L478.73,109.40 L478.98,109.40 L479.24,109.40 L479.49,109.40 L479.74,109.40 L479.99,109.40 L480.24,109.40 L480.49,109.40 L480.74,109.40 L480.99,109.40 L481.24,109.40 L481.49,109.40 L481.74,109.40 L481.99,109.40 L482.24,109.40 L482.49,109.40 L482.75,109.40 L483.00,109.40 L483.25,109.40 L483.50,109.40 L483.75,109.40 L484.00,109.40 L484.25,109.40 L484.50,109.40" fill="none" stroke="#000" stroke-width="1.7" stroke-linejoin="round"/>
<path d="M310.30,204.20 L310.55,204.20 L310.80,204.20 L311.05,204.20 L311.30,204.20 L311.55,204.20 L311.80,204.20 L312.05,204.20 L312.30,204.20 L312.55,204.20 L312.81,204.20 L313.06,204.20 L313.31,204.20 L313.56,204.20 L313.81,204.20 L314.06,204.20 L314.31,204.20 L314.56,204.20 L314.81,204.20 L315.06,204.20 L315.31,204.20 L315.56,204.19 L315.81,204.19 L316.06,204.19 L316.31,204.19 L316.56,204.18 L316.81,204.17 L317.06,204.17 L317.31,204.15 L317.56,204.14 L317.82,204.12 L318.07,204.09 L318.32,204.06 L318.57,204.02 L318.82,203.96 L319.07,203.90 L319.32,203.82 L319.57,203.72 L319.82,203.60 L320.07,203.45 L320.32,203.27 L320.57,203.06 L320.82,202.81 L321.07,202.52 L321.32,202.18 L321.57,201.79 L321.82,201.34 L322.07,200.84 L322.32,200.27 L322.57,199.64 L322.83,198.94 L323.08,198.18 L323.33,197.36 L323.58,196.48 L323.83,195.55 L324.08,194.57 L324.33,193.55 L324.58,192.51 L324.83,191.46 L325.08,190.41 L325.33,189.38 L325.58,188.38 L325.83,187.43 L326.08,186.55 L326.33,185.75 L326.58,185.04 L326.83,184.45 L327.08,183.98 L327.33,183.65 L327.58,183.45 L327.84,183.40 L328.09,183.48 L328.34,183.70 L328.59,184.03 L328.84,184.48 L329.09,185.04 L329.34,185.70 L329.59,186.44 L329.84,187.26 L330.09,188.12 L330.34,189.04 L330.59,189.98 L330.84,190.93 L331.09,191.88 L331.34,192.82 L331.59,193.74 L331.84,194.62 L332.09,195.47 L332.34,196.26 L332.59,197.01 L332.85,197.70 L333.10,198.34 L333.35,198.92 L333.60,199.45 L333.85,199.92 L334.10,200.35 L334.35,200.72 L334.60,201.06 L334.85,201.35 L335.10,201.61 L335.35,201.83 L335.60,202.03 L335.85,202.20 L336.10,202.35 L336.35,202.48 L336.60,202.59 L336.85,202.69 L337.10,202.78 L337.35,202.86 L337.60,202.93 L337.86,203.00 L338.11,203.06 L338.36,203.12 L338.61,203.17 L338.86,203.22 L339.11,203.27 L339.36,203.31 L339.61,203.35 L339.86,203.39 L340.11,203.43 L340.36,203.47 L340.61,203.51 L340.86,203.54 L341.11,203.57 L341.36,203.61 L341.61,203.64 L341.86,203.67 L342.11,203.70 L342.36,203.72 L342.61,203.75 L342.87,203.78 L343.12,203.80 L343.37,203.82 L343.62,203.85 L343.87,203.87 L344.12,203.89 L344.37,203.91 L344.62,203.93 L344.87,203.94 L345.12,203.96 L345.37,203.98 L345.62,203.99 L345.87,204.01 L346.12,204.02 L346.37,204.03 L346.62,204.04 L346.87,204.05 L347.12,204.07 L347.37,204.07 L347.62,204.08 L347.88,204.09 L348.13,204.10 L348.38,204.11 L348.63,204.12 L348.88,204.12 L349.13,204.13 L349.38,204.13 L349.63,204.14 L349.88,204.14 L350.13,204.15 L350.38,204.15 L350.63,204.16 L350.88,204.16 L351.13,204.16 L351.38,204.17 L351.63,204.17 L351.88,204.17 L352.13,204.18 L352.38,204.18 L352.63,204.18 L352.89,204.18 L353.14,204.18 L353.39,204.19 L353.64,204.19 L353.89,204.19 L354.14,204.19 L354.39,204.19 L354.64,204.19 L354.89,204.19 L355.14,204.19 L355.39,204.19 L355.64,204.19 L355.89,204.19 L356.14,204.20 L356.39,204.20 L356.64,204.20 L356.89,204.20 L357.14,204.20 L357.39,204.20 L357.64,204.20 L357.90,204.20 L358.15,204.20 L358.40,204.20 L358.65,204.20 L358.90,204.20 L359.15,204.20 L359.40,204.20 L359.65,204.20 L359.90,204.20 L360.15,204.20 L360.40,204.20 L360.65,204.20 L360.90,204.20 L361.15,204.20 L361.40,204.20 L361.65,204.20 L361.90,204.20 L362.15,204.20 L362.40,204.20 L362.65,204.20 L362.91,204.20 L363.16,204.20 L363.41,204.19 L363.66,204.18 L363.91,204.17 L364.16,204.13 L364.41,204.07 L364.66,203.97 L364.91,203.78 L365.16,203.48 L365.41,203.02 L365.66,202.33 L365.91,201.36 L366.16,200.05 L366.41,198.38 L366.66,196.36 L366.91,194.04 L367.16,191.57 L367.41,189.10 L367.66,186.87 L367.92,185.09 L368.17,183.96 L368.42,183.60 L368.67,184.06 L368.92,185.29 L369.17,187.14 L369.42,189.42 L369.67,191.89 L369.92,194.36 L370.17,196.64 L370.42,198.62 L370.67,200.24 L370.92,201.51 L371.17,202.44 L371.42,203.09 L371.67,203.53 L371.92,203.81 L372.17,203.98 L372.42,204.08 L372.67,204.14 L372.93,204.17 L373.18,204.19 L373.43,204.19 L373.68,204.20 L373.93,204.20 L374.18,204.20 L374.43,204.20 L374.68,204.20 L374.93,204.20 L375.18,204.20 L375.43,204.20 L375.68,204.20 L375.93,204.20 L376.18,204.20 L376.43,204.20 L376.68,204.20 L376.93,204.20 L377.18,204.20 L377.43,204.20 L377.68,204.20 L377.94,204.20 L378.19,204.20 L378.44,204.20 L378.69,204.20 L378.94,204.20 L379.19,204.20 L379.44,204.20 L379.69,204.20 L379.94,204.20 L380.19,204.20 L380.44,204.20 L380.69,204.20 L380.94,204.20 L381.19,204.20 L381.44,204.20 L381.69,204.20 L381.94,204.20 L382.19,204.20 L382.44,204.20 L382.69,204.20 L382.95,204.20 L383.20,204.20 L383.45,204.20 L383.70,204.20 L383.95,204.20 L384.20,204.20 L384.45,204.20 L384.70,204.20 L384.95,204.20 L385.20,204.20" fill="none" stroke="#000" stroke-width="1.7" stroke-linejoin="round"/>
<path d="M411.10,204.90 L411.35,204.90 L411.60,204.90 L411.85,204.90 L412.10,204.90 L412.35,204.90 L412.60,204.90 L412.85,204.90 L413.10,204.90 L413.35,204.90 L413.60,204.90 L413.85,204.90 L414.10,204.90 L414.35,204.90 L414.60,204.90 L414.85,204.90 L415.10,204.89 L415.35,204.89 L415.60,204.89 L415.85,204.88 L416.10,204.87 L416.35,204.86 L416.60,204.85 L416.85,204.83 L417.10,204.81 L417.35,204.78 L417.60,204.74 L417.85,204.68 L418.10,204.61 L418.35,204.53 L418.61,204.42 L418.86,204.28 L419.11,204.12 L419.36,203.91 L419.61,203.66 L419.86,203.37 L420.11,203.01 L420.36,202.59 L420.61,202.11 L420.86,201.54 L421.11,200.89 L421.36,200.16 L421.61,199.34 L421.86,198.42 L422.11,197.42 L422.36,196.33 L422.61,195.16 L422.86,193.91 L423.11,192.61 L423.36,191.26 L423.61,189.88 L423.86,188.49 L424.11,187.12 L424.36,185.79 L424.61,184.52 L424.86,183.34 L425.11,182.27 L425.36,181.34 L425.61,180.56 L425.86,179.96 L426.11,179.55 L426.36,179.33 L426.61,179.32 L426.86,179.49 L427.11,179.84 L427.36,180.36 L427.61,181.04 L427.86,181.86 L428.11,182.80 L428.36,183.85 L428.61,184.98 L428.86,186.18 L429.11,187.41 L429.36,188.66 L429.61,189.91 L429.86,191.14 L430.11,192.33 L430.36,193.47 L430.61,194.55 L430.86,195.56 L431.11,196.50 L431.36,197.36 L431.61,198.15 L431.86,198.85 L432.11,199.48 L432.36,200.04 L432.61,200.53 L432.86,200.96 L433.12,201.33 L433.37,201.66 L433.62,201.94 L433.87,202.18 L434.12,202.39 L434.37,202.57 L434.62,202.73 L434.87,202.86 L435.12,202.98 L435.37,203.09 L435.62,203.18 L435.87,203.27 L436.12,203.35 L436.37,203.42 L436.62,203.49 L436.87,203.55 L437.12,203.61 L437.37,203.67 L437.62,203.72 L437.87,203.77 L438.12,203.83 L438.37,203.88 L438.62,203.92 L438.87,203.97 L439.12,204.01 L439.37,204.06 L439.62,204.10 L439.87,204.14 L440.12,204.18 L440.37,204.22 L440.62,204.25 L440.87,204.29 L441.12,204.32 L441.37,204.35 L441.62,204.39 L441.87,204.41 L442.12,204.44 L442.37,204.47 L442.62,204.50 L442.87,204.52 L443.12,204.55 L443.37,204.57 L443.62,204.59 L443.87,204.61 L444.12,204.63 L444.37,204.65 L444.62,204.66 L444.87,204.68 L445.12,204.70 L445.37,204.71 L445.62,204.72 L445.87,204.74 L446.12,204.75 L446.37,204.76 L446.62,204.77 L446.87,204.78 L447.12,204.79 L447.37,204.80 L447.62,204.81 L447.88,204.81 L448.13,204.82 L448.38,204.83 L448.63,204.83 L448.88,204.84 L449.13,204.84 L449.38,204.85 L449.63,204.85 L449.88,204.86 L450.13,204.86 L450.38,204.86 L450.63,204.87 L450.88,204.87 L451.13,204.87 L451.38,204.88 L451.63,204.88 L451.88,204.88 L452.13,204.88 L452.38,204.88 L452.63,204.89 L452.88,204.89 L453.13,204.89 L453.38,204.89 L453.63,204.89 L453.88,204.89 L454.13,204.89 L454.38,204.89 L454.63,204.89 L454.88,204.89 L455.13,204.89 L455.38,204.90 L455.63,204.90 L455.88,204.90 L456.13,204.90 L456.38,204.90 L456.63,204.90 L456.88,204.90 L457.13,204.90 L457.38,204.90 L457.63,204.90 L457.88,204.90 L458.13,204.90 L458.38,204.90 L458.63,204.90 L458.88,204.90 L459.13,204.90 L459.38,204.90 L459.63,204.90 L459.88,204.90 L460.13,204.90 L460.38,204.90 L460.63,204.90 L460.88,204.90 L461.13,204.90 L461.38,204.90 L461.63,204.90 L461.88,204.90 L462.13,204.90 L462.38,204.90 L462.64,204.90 L462.89,204.90 L463.14,204.90 L463.39,204.90 L463.64,204.90 L463.89,204.89 L464.14,204.88 L464.39,204.87 L464.64,204.84 L464.89,204.78 L465.14,204.68 L465.39,204.52 L465.64,204.26 L465.89,203.85 L466.14,203.27 L466.39,202.45 L466.64,201.36 L466.89,200.00 L467.14,198.37 L467.39,196.55 L467.64,194.64 L467.89,192.79 L468.14,191.16 L468.39,189.93 L468.64,189.23 L468.89,189.14 L469.14,189.67 L469.39,190.76 L469.64,192.29 L469.89,194.10 L470.14,196.01 L470.39,197.87 L470.64,199.56 L470.89,201.00 L471.14,202.16 L471.39,203.06 L471.64,203.71 L471.89,204.16 L472.14,204.46 L472.39,204.65 L472.64,204.76 L472.89,204.83 L473.14,204.86 L473.39,204.88 L473.64,204.89 L473.89,204.90 L474.14,204.90 L474.39,204.90 L474.64,204.90 L474.89,204.90 L475.14,204.90 L475.39,204.90 L475.64,204.90 L475.89,204.90 L476.14,204.90 L476.39,204.90 L476.64,204.90 L476.89,204.90 L477.15,204.90 L477.40,204.90 L477.65,204.90 L477.90,204.90 L478.15,204.90 L478.40,204.90 L478.65,204.90 L478.90,204.90 L479.15,204.90 L479.40,204.90 L479.65,204.90 L479.90,204.90 L480.15,204.90 L480.40,204.90 L480.65,204.90 L480.90,204.90 L481.15,204.90 L481.40,204.90 L481.65,204.90 L481.90,204.90 L482.15,204.90 L482.40,204.90 L482.65,204.90 L482.90,204.90 L483.15,204.90 L483.40,204.90 L483.65,204.90 L483.90,204.90 L484.15,204.90 L484.40,204.90" fill="none" stroke="#000" stroke-width="1.7" stroke-linejoin="round"/>
<line x1="314.50" y1="72.60" x2="346.30" y2="72.60" stroke="#111" stroke-width="1.3"/>
<line x1="314.50" y1="72.60" x2="314.50" y2="77.70" stroke="#111" stroke-width="1.3"/>
<line x1="346.30" y1="72.60" x2="346.30" y2="77.70" stroke="#111" stroke-width="1.3"/>
<line x1="415.30" y1="40.50" x2="448.80" y2="40.50" stroke="#111" stroke-width="1.3"/>
<line x1="415.30" y1="40.50" x2="415.30" y2="45.50" stroke="#111" stroke-width="1.3"/>
<line x1="448.80" y1="40.50" x2="448.80" y2="45.50" stroke="#111" stroke-width="1.3"/>
<line x1="314.60" y1="172.80" x2="346.50" y2="172.80" stroke="#111" stroke-width="1.3"/>
<line x1="314.60" y1="172.80" x2="314.60" y2="178.00" stroke="#111" stroke-width="1.3"/>
<line x1="346.50" y1="172.80" x2="346.50" y2="178.00" stroke="#111" stroke-width="1.3"/>
<line x1="415.00" y1="167.50" x2="448.80" y2="167.50" stroke="#111" stroke-width="1.3"/>
<line x1="415.00" y1="167.50" x2="415.00" y2="172.30" stroke="#111" stroke-width="1.3"/>
<line x1="448.80" y1="167.50" x2="448.80" y2="172.30" stroke="#111" stroke-width="1.3"/>
<text x="322.60" y="66.90" font-size="7.4" fill="#333" stroke="#333" stroke-width="0.25" font-weight="normal" font-style="normal" textLength="15.40" lengthAdjust="spacingAndGlyphs">61%</text>
<text x="461.40" y="47.60" font-size="7.4" fill="#333" stroke="#333" stroke-width="0.25" font-weight="normal" font-style="normal" textLength="14.70" lengthAdjust="spacingAndGlyphs">86%</text>
<text x="322.60" y="167.60" font-size="7.4" fill="#333" stroke="#333" stroke-width="0.25" font-weight="normal" font-style="normal" textLength="15.40" lengthAdjust="spacingAndGlyphs">70%</text>
<text x="424.30" y="161.50" font-size="7.4" fill="#333" stroke="#333" stroke-width="0.25" font-weight="normal" font-style="normal" textLength="15.40" lengthAdjust="spacingAndGlyphs">77%</text>
<line x1="292.20" y1="98.30" x2="292.20" y2="109.30" stroke="#111" stroke-width="1.2"/>
<text transform="translate(295.20,94.60) rotate(-90)" x="0" y="0" font-size="8.2" fill="#1a1a1a" stroke="#1a1a1a" stroke-width="0.25" textLength="40.90" lengthAdjust="spacingAndGlyphs">CD4<tspan font-size="5.5" dy="-3">+</tspan><tspan dy="3"> cells</tspan></text>
<line x1="292.40" y1="47.00" x2="292.40" y2="37.00" stroke="#111" stroke-width="1.2"/>
<path d="M292.4,31.70 L289.6,39.60 L295.2,39.60 Z" fill="#111"/>
<line x1="292.20" y1="193.70" x2="292.20" y2="204.70" stroke="#111" stroke-width="1.2"/>
<text transform="translate(295.20,190.00) rotate(-90)" x="0" y="0" font-size="8.2" fill="#1a1a1a" stroke="#1a1a1a" stroke-width="0.25" textLength="40.90" lengthAdjust="spacingAndGlyphs">CD8<tspan font-size="5.5" dy="-3">+</tspan><tspan dy="3"> cells</tspan></text>
<line x1="292.40" y1="142.40" x2="292.40" y2="132.40" stroke="#111" stroke-width="1.2"/>
<path d="M292.4,127.10 L289.6,135.00 L295.2,135.00 Z" fill="#111"/>
<line x1="311.00" y1="220.20" x2="333.50" y2="220.20" stroke="#111" stroke-width="1.2"/>
<text x="336.80" y="223.80" font-size="10" fill="#1a1a1a" stroke="#1a1a1a" stroke-width="0.25" font-weight="normal" font-style="normal" textLength="19.00" lengthAdjust="spacingAndGlyphs">CFSE</text>
<line x1="361.50" y1="220.20" x2="383.50" y2="220.20" stroke="#111" stroke-width="1.2"/>
<path d="M388.50,220.20 L381.00,217.20 L381.00,223.20 Z" fill="#111"/>
<line x1="410.50" y1="220.20" x2="431.50" y2="220.20" stroke="#111" stroke-width="1.2"/>
<text x="437.50" y="223.80" font-size="10" fill="#1a1a1a" stroke="#1a1a1a" stroke-width="0.25" font-weight="normal" font-style="normal" textLength="19.50" lengthAdjust="spacingAndGlyphs">CFSE</text>
<line x1="462.50" y1="220.20" x2="483.00" y2="220.20" stroke="#111" stroke-width="1.2"/>
<path d="M488.00,220.20 L480.50,217.20 L480.50,223.20 Z" fill="#111"/>
</g>
<line x1="51.50" y1="273.50" x2="51.50" y2="404.30" stroke="#111" stroke-width="1.3"/>
<line x1="50.85" y1="404.30" x2="241.30" y2="404.30" stroke="#111" stroke-width="1.3"/>
<line x1="48.20" y1="276.00" x2="51.50" y2="276.00" stroke="#111" stroke-width="1.2"/>
<line x1="48.20" y1="318.80" x2="51.50" y2="318.80" stroke="#111" stroke-width="1.2"/>
<line x1="48.20" y1="361.30" x2="51.50" y2="361.30" stroke="#111" stroke-width="1.2"/>
<line x1="48.20" y1="404.30" x2="51.50" y2="404.30" stroke="#111" stroke-width="1.2"/>
<text x="32.60" y="279.20" font-size="7.8" fill="#1a1a1a" stroke="#1a1a1a" stroke-width="0.25" font-weight="normal" font-style="normal" textLength="12.00" lengthAdjust="spacingAndGlyphs">100</text>
<text x="36.40" y="322.00" font-size="7.8" fill="#1a1a1a" stroke="#1a1a1a" stroke-width="0.25" font-weight="normal" font-style="normal" textLength="8.20" lengthAdjust="spacingAndGlyphs">10</text>
<text x="40.40" y="364.60" font-size="7.8" fill="#1a1a1a" stroke="#1a1a1a" stroke-width="0.25" font-weight="normal" font-style="normal" textLength="3.80" lengthAdjust="spacingAndGlyphs">1</text>
<text x="32.80" y="407.10" font-size="7.8" fill="#1a1a1a" stroke="#1a1a1a" stroke-width="0.25" font-weight="normal" font-style="normal" textLength="11.80" lengthAdjust="spacingAndGlyphs">0.1</text>
<text transform="translate(23.80,357.90) rotate(-90)" x="0" y="0" font-size="9.7" fill="#1a1a1a" stroke="#1a1a1a" stroke-width="0.25" textLength="29.10" lengthAdjust="spacingAndGlyphs">% CFSE</text>
<text transform="translate(20.90,328.50) rotate(-90)" font-size="8.8" fill="#1a1a1a" stroke="#1a1a1a" stroke-width="0.25" textLength="5.90" lengthAdjust="spacingAndGlyphs">lo</text>
<line x1="75.00" y1="404.30" x2="75.00" y2="407.30" stroke="#111" stroke-width="1.1"/>
<line x1="116.90" y1="404.30" x2="116.90" y2="407.30" stroke="#111" stroke-width="1.1"/>
<line x1="173.70" y1="404.30" x2="173.70" y2="407.30" stroke="#111" stroke-width="1.1"/>
<line x1="216.00" y1="404.30" x2="216.00" y2="407.30" stroke="#111" stroke-width="1.1"/>
<text x="68.30" y="418.50" font-size="8" fill="#1a1a1a" stroke="#1a1a1a" stroke-width="0.25" font-weight="normal" font-style="normal" textLength="12.10" lengthAdjust="spacingAndGlyphs">WT</text>
<text x="98.50" y="418.50" font-size="8" fill="#1a1a1a" stroke="#1a1a1a" stroke-width="0.25" font-weight="normal" font-style="normal" textLength="37.50" lengthAdjust="spacingAndGlyphs">Aberration</text>
<text x="166.30" y="418.50" font-size="8" fill="#1a1a1a" stroke="#1a1a1a" stroke-width="0.25" font-weight="normal" font-style="normal" textLength="12.20" lengthAdjust="spacingAndGlyphs">WT</text>
<text x="197.10" y="418.50" font-size="8" fill="#1a1a1a" stroke="#1a1a1a" stroke-width="0.25" font-weight="normal" font-style="normal" textLength="37.50" lengthAdjust="spacingAndGlyphs">Aberration</text>
<line x1="63.50" y1="424.20" x2="137.50" y2="424.20" stroke="#111" stroke-width="1.5"/>
<line x1="166.30" y1="424.20" x2="240.00" y2="424.20" stroke="#111" stroke-width="1.5"/>
<text x="90.70" y="436.60" font-size="10" fill="#1a1a1a" stroke="#1a1a1a" stroke-width="0.25" font-weight="normal" font-style="normal" textLength="15.20" lengthAdjust="spacingAndGlyphs">CD4</text>
<text x="106.90" y="434.00" font-size="7" fill="#1a1a1a" stroke="#1a1a1a" stroke-width="0.25" font-weight="normal" font-style="normal" textLength="3.40" lengthAdjust="spacingAndGlyphs">+</text>
<text x="192.70" y="436.60" font-size="10" fill="#1a1a1a" stroke="#1a1a1a" stroke-width="0.25" font-weight="normal" font-style="normal" textLength="15.30" lengthAdjust="spacingAndGlyphs">CD8</text>
<text x="209.00" y="434.00" font-size="7" fill="#1a1a1a" stroke="#1a1a1a" stroke-width="0.25" font-weight="normal" font-style="normal" textLength="3.60" lengthAdjust="spacingAndGlyphs">+</text>
<text x="82.70" y="263.70" font-size="7" fill="#333" stroke="#333" stroke-width="0.25" textLength="23.50" lengthAdjust="spacingAndGlyphs"><tspan font-style="italic">P</tspan><tspan font-size="5.60" fill="#666" stroke="#666"> = </tspan>.01</text>
<text x="185.20" y="263.70" font-size="7" fill="#333" stroke="#333" stroke-width="0.25" textLength="21.50" lengthAdjust="spacingAndGlyphs"><tspan font-style="italic">P</tspan><tspan font-size="5.60" fill="#666" stroke="#666"> = </tspan>ns</text>
<line x1="74.00" y1="273.00" x2="115.20" y2="273.00" stroke="#111" stroke-width="1.3"/>
<line x1="74.00" y1="270.00" x2="74.00" y2="276.00" stroke="#111" stroke-width="1.3"/>
<line x1="115.20" y1="270.00" x2="115.20" y2="276.00" stroke="#111" stroke-width="1.3"/>
<line x1="175.40" y1="272.80" x2="216.30" y2="272.80" stroke="#111" stroke-width="1.3"/>
<line x1="175.40" y1="269.80" x2="175.40" y2="275.80" stroke="#111" stroke-width="1.3"/>
<line x1="216.30" y1="269.80" x2="216.30" y2="275.80" stroke="#111" stroke-width="1.3"/>
<line x1="61.00" y1="326.10" x2="89.40" y2="326.10" stroke="#444" stroke-width="1.6"/>
<line x1="108.00" y1="307.00" x2="137.80" y2="307.00" stroke="#444" stroke-width="1.6"/>
<line x1="75.00" y1="311.30" x2="122.50" y2="299.60" stroke="#111" stroke-width="1.5"/>
<line x1="75.00" y1="318.80" x2="122.50" y2="302.60" stroke="#111" stroke-width="1.5"/>
<line x1="75.00" y1="325.40" x2="122.50" y2="313.60" stroke="#111" stroke-width="1.5"/>
<line x1="75.00" y1="366.30" x2="122.50" y2="331.40" stroke="#111" stroke-width="1.5"/>
<line x1="75.00" y1="404.30" x2="122.50" y2="302.00" stroke="#111" stroke-width="1.5"/>
<line x1="75.00" y1="404.30" x2="122.50" y2="333.00" stroke="#111" stroke-width="1.5"/>
<circle cx="75.00" cy="311.30" r="4.8" fill="#cdcdcd" stroke="#111" stroke-width="1.6"/>
<circle cx="75.00" cy="318.80" r="4.8" fill="#cdcdcd" stroke="#111" stroke-width="1.6"/>
<circle cx="75.00" cy="325.40" r="4.8" fill="#cdcdcd" stroke="#111" stroke-width="1.6"/>
<circle cx="75.00" cy="366.30" r="4.8" fill="#cdcdcd" stroke="#111" stroke-width="1.6"/>
<circle cx="75.00" cy="404.30" r="4.8" fill="#cdcdcd" stroke="#111" stroke-width="1.6"/>
<circle cx="122.50" cy="333.00" r="4.8" fill="#6b6b6b" stroke="#111" stroke-width="1.6"/>
<circle cx="122.50" cy="331.40" r="4.8" fill="#6b6b6b" stroke="#111" stroke-width="1.6"/>
<circle cx="122.50" cy="313.60" r="4.8" fill="#6b6b6b" stroke="#111" stroke-width="1.6"/>
<circle cx="122.50" cy="302.60" r="4.8" fill="#6b6b6b" stroke="#111" stroke-width="1.6"/>
<circle cx="122.50" cy="299.60" r="4.8" fill="#6b6b6b" stroke="#111" stroke-width="1.6"/>
<text x="55.80" y="338.40" font-size="7.4" fill="#333" stroke="#333" stroke-width="0.25" font-weight="normal" font-style="normal" textLength="11.20" lengthAdjust="spacingAndGlyphs">7%</text>
<text x="132.10" y="305.00" font-size="7.4" fill="#333" stroke="#333" stroke-width="0.25" font-weight="normal" font-style="normal" textLength="14.40" lengthAdjust="spacingAndGlyphs">14%</text>
<line x1="155.00" y1="326.60" x2="182.70" y2="326.60" stroke="#444" stroke-width="1.6"/>
<line x1="212.50" y1="301.70" x2="235.00" y2="301.70" stroke="#444" stroke-width="1.6"/>
<line x1="170.10" y1="302.80" x2="217.50" y2="308.60" stroke="#111" stroke-width="1.5"/>
<line x1="170.10" y1="306.10" x2="217.50" y2="304.60" stroke="#111" stroke-width="1.5"/>
<line x1="170.10" y1="325.80" x2="217.50" y2="295.10" stroke="#111" stroke-width="1.5"/>
<line x1="170.10" y1="320.30" x2="217.50" y2="318.10" stroke="#111" stroke-width="1.5"/>
<line x1="170.10" y1="327.50" x2="217.50" y2="321.00" stroke="#111" stroke-width="1.5"/>
<line x1="170.10" y1="339.80" x2="217.50" y2="324.40" stroke="#111" stroke-width="1.5"/>
<rect x="165.50" y="298.20" width="9.2" height="9.2" fill="#cdcdcd" stroke="#111" stroke-width="1.6"/>
<rect x="165.50" y="301.50" width="9.2" height="9.2" fill="#cdcdcd" stroke="#111" stroke-width="1.6"/>
<rect x="165.50" y="315.70" width="9.2" height="9.2" fill="#cdcdcd" stroke="#111" stroke-width="1.6"/>
<rect x="165.50" y="321.20" width="9.2" height="9.2" fill="#cdcdcd" stroke="#111" stroke-width="1.6"/>
<rect x="165.50" y="322.90" width="9.2" height="9.2" fill="#cdcdcd" stroke="#111" stroke-width="1.6"/>
<rect x="165.50" y="335.20" width="9.2" height="9.2" fill="#cdcdcd" stroke="#111" stroke-width="1.6"/>
<rect x="212.90" y="290.50" width="9.2" height="9.2" fill="#6b6b6b" stroke="#111" stroke-width="1.6"/>
<rect x="212.90" y="300.00" width="9.2" height="9.2" fill="#6b6b6b" stroke="#111" stroke-width="1.6"/>
<rect x="212.90" y="304.00" width="9.2" height="9.2" fill="#6b6b6b" stroke="#111" stroke-width="1.6"/>
<rect x="212.90" y="313.50" width="9.2" height="9.2" fill="#6b6b6b" stroke="#111" stroke-width="1.6"/>
<rect x="212.90" y="319.80" width="9.2" height="9.2" fill="#6b6b6b" stroke="#111" stroke-width="1.6"/>
<text x="145.60" y="337.00" font-size="7.4" fill="#333" stroke="#333" stroke-width="0.25" font-weight="normal" font-style="normal" textLength="10.40" lengthAdjust="spacingAndGlyphs">7%</text>
<text x="228.80" y="299.80" font-size="7.4" fill="#333" stroke="#333" stroke-width="0.25" font-weight="normal" font-style="normal" textLength="14.50" lengthAdjust="spacingAndGlyphs">17%</text>
<line x1="310.80" y1="271.50" x2="310.80" y2="404.30" stroke="#111" stroke-width="1.3"/>
<line x1="310.15" y1="404.10" x2="505.20" y2="404.10" stroke="#111" stroke-width="1.3"/>
<line x1="307.50" y1="274.60" x2="310.80" y2="274.60" stroke="#111" stroke-width="1.2"/>
<line x1="307.50" y1="317.90" x2="310.80" y2="317.90" stroke="#111" stroke-width="1.2"/>
<line x1="307.50" y1="361.20" x2="310.80" y2="361.20" stroke="#111" stroke-width="1.2"/>
<line x1="307.50" y1="404.30" x2="310.80" y2="404.30" stroke="#111" stroke-width="1.2"/>
<text x="291.90" y="277.80" font-size="7.8" fill="#1a1a1a" stroke="#1a1a1a" stroke-width="0.25" font-weight="normal" font-style="normal" textLength="12.00" lengthAdjust="spacingAndGlyphs">100</text>
<text x="295.70" y="321.10" font-size="7.8" fill="#1a1a1a" stroke="#1a1a1a" stroke-width="0.25" font-weight="normal" font-style="normal" textLength="8.20" lengthAdjust="spacingAndGlyphs">10</text>
<text x="299.70" y="364.50" font-size="7.8" fill="#1a1a1a" stroke="#1a1a1a" stroke-width="0.25" font-weight="normal" font-style="normal" textLength="3.80" lengthAdjust="spacingAndGlyphs">1</text>
<text x="292.10" y="407.10" font-size="7.8" fill="#1a1a1a" stroke="#1a1a1a" stroke-width="0.25" font-weight="normal" font-style="normal" textLength="11.80" lengthAdjust="spacingAndGlyphs">0.1</text>
<text transform="translate(282.80,357.40) rotate(-90)" x="0" y="0" font-size="9.7" fill="#1a1a1a" stroke="#1a1a1a" stroke-width="0.25" textLength="30.60" lengthAdjust="spacingAndGlyphs">% CFSE</text>
<text transform="translate(279.90,326.50) rotate(-90)" font-size="8.8" fill="#1a1a1a" stroke="#1a1a1a" stroke-width="0.25" textLength="5.50" lengthAdjust="spacingAndGlyphs">lo</text>
<line x1="331.10" y1="404.10" x2="331.10" y2="407.10" stroke="#111" stroke-width="1.1"/>
<line x1="379.20" y1="404.10" x2="379.20" y2="407.10" stroke="#111" stroke-width="1.1"/>
<line x1="440.60" y1="404.10" x2="440.60" y2="407.10" stroke="#111" stroke-width="1.1"/>
<line x1="486.20" y1="404.10" x2="486.20" y2="407.10" stroke="#111" stroke-width="1.1"/>
<text x="324.20" y="418.40" font-size="8" fill="#1a1a1a" stroke="#1a1a1a" stroke-width="0.25" font-weight="normal" font-style="normal" textLength="12.00" lengthAdjust="spacingAndGlyphs">WT</text>
<text x="360.80" y="418.40" font-size="8" fill="#1a1a1a" stroke="#1a1a1a" stroke-width="0.25" font-weight="normal" font-style="normal" textLength="37.40" lengthAdjust="spacingAndGlyphs">Aberration</text>
<text x="433.20" y="418.40" font-size="8" fill="#1a1a1a" stroke="#1a1a1a" stroke-width="0.25" font-weight="normal" font-style="normal" textLength="12.30" lengthAdjust="spacingAndGlyphs">WT</text>
<text x="467.70" y="418.40" font-size="8" fill="#1a1a1a" stroke="#1a1a1a" stroke-width="0.25" font-weight="normal" font-style="normal" textLength="36.90" lengthAdjust="spacingAndGlyphs">Aberration</text>
<line x1="328.80" y1="424.30" x2="401.50" y2="424.30" stroke="#111" stroke-width="1.5"/>
<line x1="431.40" y1="424.30" x2="504.60" y2="424.30" stroke="#111" stroke-width="1.5"/>
<text x="355.80" y="436.60" font-size="10" fill="#1a1a1a" stroke="#1a1a1a" stroke-width="0.25" font-weight="normal" font-style="normal" textLength="15.20" lengthAdjust="spacingAndGlyphs">CD4</text>
<text x="371.90" y="434.00" font-size="7" fill="#1a1a1a" stroke="#1a1a1a" stroke-width="0.25" font-weight="normal" font-style="normal" textLength="3.40" lengthAdjust="spacingAndGlyphs">+</text>
<text x="457.80" y="436.60" font-size="10" fill="#1a1a1a" stroke="#1a1a1a" stroke-width="0.25" font-weight="normal" font-style="normal" textLength="15.20" lengthAdjust="spacingAndGlyphs">CD8</text>
<text x="474.10" y="434.00" font-size="7" fill="#1a1a1a" stroke="#1a1a1a" stroke-width="0.25" font-weight="normal" font-style="normal" textLength="3.60" lengthAdjust="spacingAndGlyphs">+</text>
<text x="338.80" y="253.90" font-size="7.2" fill="#333" stroke="#333" stroke-width="0.25" textLength="27.90" lengthAdjust="spacingAndGlyphs"><tspan font-style="italic">P</tspan><tspan font-size="7.20" fill="#3a3a3a" stroke="#3a3a3a"> = </tspan>.007</text>
<text x="452.70" y="253.90" font-size="7.2" fill="#333" stroke="#333" stroke-width="0.25" textLength="19.80" lengthAdjust="spacingAndGlyphs"><tspan font-style="italic">P</tspan><tspan font-size="7.20" fill="#3a3a3a" stroke="#3a3a3a"> = </tspan>.1</text>
<line x1="332.00" y1="263.60" x2="373.50" y2="263.60" stroke="#111" stroke-width="1.3"/>
<line x1="332.00" y1="260.60" x2="332.00" y2="266.60" stroke="#111" stroke-width="1.3"/>
<line x1="373.50" y1="260.60" x2="373.50" y2="266.60" stroke="#111" stroke-width="1.3"/>
<line x1="441.70" y1="263.70" x2="483.70" y2="263.70" stroke="#111" stroke-width="1.3"/>
<line x1="441.70" y1="260.70" x2="441.70" y2="266.70" stroke="#111" stroke-width="1.3"/>
<line x1="483.70" y1="260.70" x2="483.70" y2="266.70" stroke="#111" stroke-width="1.3"/>
<line x1="318.70" y1="317.30" x2="343.80" y2="317.30" stroke="#444" stroke-width="1.6"/>
<line x1="359.20" y1="289.30" x2="386.90" y2="289.30" stroke="#444" stroke-width="1.6"/>
<line x1="331.10" y1="281.90" x2="373.10" y2="276.50" stroke="#111" stroke-width="1.5"/>
<line x1="331.10" y1="281.90" x2="373.10" y2="279.60" stroke="#111" stroke-width="1.5"/>
<line x1="331.10" y1="316.50" x2="373.10" y2="292.70" stroke="#111" stroke-width="1.5"/>
<line x1="331.10" y1="335.00" x2="373.10" y2="309.60" stroke="#111" stroke-width="1.5"/>
<line x1="331.10" y1="404.30" x2="373.10" y2="312.70" stroke="#111" stroke-width="1.5"/>
<circle cx="331.10" cy="281.90" r="5.0" fill="#cdcdcd" stroke="#111" stroke-width="1.6"/>
<circle cx="331.10" cy="316.50" r="5.0" fill="#cdcdcd" stroke="#111" stroke-width="1.6"/>
<circle cx="331.10" cy="335.00" r="5.0" fill="#cdcdcd" stroke="#111" stroke-width="1.6"/>
<circle cx="331.10" cy="404.30" r="5.0" fill="#cdcdcd" stroke="#111" stroke-width="1.6"/>
<circle cx="373.10" cy="312.70" r="5.0" fill="#6b6b6b" stroke="#111" stroke-width="1.6"/>
<circle cx="373.10" cy="309.60" r="5.0" fill="#6b6b6b" stroke="#111" stroke-width="1.6"/>
<circle cx="373.10" cy="292.70" r="5.0" fill="#6b6b6b" stroke="#111" stroke-width="1.6"/>
<circle cx="373.10" cy="279.60" r="5.0" fill="#6b6b6b" stroke="#111" stroke-width="1.6"/>
<circle cx="373.10" cy="276.50" r="5.0" fill="#6b6b6b" stroke="#111" stroke-width="1.6"/>
<text x="312.00" y="327.30" font-size="7.4" fill="#333" stroke="#333" stroke-width="0.25" font-weight="normal" font-style="normal" textLength="14.30" lengthAdjust="spacingAndGlyphs">10%</text>
<text x="383.00" y="285.00" font-size="7.4" fill="#333" stroke="#333" stroke-width="0.25" font-weight="normal" font-style="normal" textLength="14.50" lengthAdjust="spacingAndGlyphs">37%</text>
<line x1="431.30" y1="286.80" x2="455.60" y2="286.80" stroke="#444" stroke-width="1.6"/>
<line x1="472.40" y1="285.00" x2="497.30" y2="285.00" stroke="#444" stroke-width="1.6"/>
<line x1="442.60" y1="279.60" x2="484.80" y2="279.40" stroke="#111" stroke-width="1.5"/>
<line x1="442.60" y1="282.50" x2="484.80" y2="281.50" stroke="#111" stroke-width="1.5"/>
<line x1="442.60" y1="290.40" x2="484.80" y2="287.00" stroke="#111" stroke-width="1.5"/>
<line x1="442.60" y1="296.10" x2="484.80" y2="293.50" stroke="#111" stroke-width="1.5"/>
<line x1="442.60" y1="337.20" x2="484.80" y2="297.00" stroke="#111" stroke-width="1.5"/>
<rect x="437.50" y="274.50" width="10.2" height="10.2" fill="#cdcdcd" stroke="#111" stroke-width="1.6"/>
<rect x="437.50" y="285.30" width="10.2" height="10.2" fill="#cdcdcd" stroke="#111" stroke-width="1.6"/>
<rect x="437.50" y="287.30" width="10.2" height="10.2" fill="#cdcdcd" stroke="#111" stroke-width="1.6"/>
<rect x="437.50" y="291.00" width="10.2" height="10.2" fill="#cdcdcd" stroke="#111" stroke-width="1.6"/>
<rect x="437.50" y="332.10" width="10.2" height="10.2" fill="#cdcdcd" stroke="#111" stroke-width="1.6"/>
<rect x="480.00" y="274.60" width="9.6" height="9.6" fill="#6b6b6b" stroke="#111" stroke-width="1.6"/>
<rect x="480.00" y="277.20" width="9.6" height="9.6" fill="#6b6b6b" stroke="#111" stroke-width="1.6"/>
<rect x="480.00" y="284.10" width="9.6" height="9.6" fill="#6b6b6b" stroke="#111" stroke-width="1.6"/>
<rect x="480.00" y="288.20" width="9.6" height="9.6" fill="#6b6b6b" stroke="#111" stroke-width="1.6"/>
<text x="413.80" y="297.50" font-size="7.4" fill="#333" stroke="#333" stroke-width="0.25" font-weight="normal" font-style="normal" textLength="14.90" lengthAdjust="spacingAndGlyphs">40%</text>
<text x="498.00" y="284.70" font-size="7.4" fill="#333" stroke="#333" stroke-width="0.25" font-weight="normal" font-style="normal" textLength="14.00" lengthAdjust="spacingAndGlyphs">50%</text>
<line x1="51.75" y1="526.00" x2="51.75" y2="657.30" stroke="#111" stroke-width="1.3"/>
<line x1="51.10" y1="656.75" x2="227.00" y2="656.75" stroke="#111" stroke-width="1.3"/>
<line x1="48.50" y1="529.50" x2="51.75" y2="529.50" stroke="#111" stroke-width="1.2"/>
<text x="32.40" y="532.30" font-size="7.8" fill="#1a1a1a" stroke="#1a1a1a" stroke-width="0.25" font-weight="normal" font-style="normal" textLength="12.10" lengthAdjust="spacingAndGlyphs">100</text>
<line x1="48.50" y1="555.00" x2="51.75" y2="555.00" stroke="#111" stroke-width="1.2"/>
<text x="36.40" y="557.80" font-size="7.8" fill="#1a1a1a" stroke="#1a1a1a" stroke-width="0.25" font-weight="normal" font-style="normal" textLength="8.10" lengthAdjust="spacingAndGlyphs">80</text>
<line x1="48.50" y1="580.50" x2="51.75" y2="580.50" stroke="#111" stroke-width="1.2"/>
<text x="36.40" y="583.30" font-size="7.8" fill="#1a1a1a" stroke="#1a1a1a" stroke-width="0.25" font-weight="normal" font-style="normal" textLength="8.10" lengthAdjust="spacingAndGlyphs">60</text>
<line x1="48.50" y1="606.25" x2="51.75" y2="606.25" stroke="#111" stroke-width="1.2"/>
<text x="36.40" y="609.05" font-size="7.8" fill="#1a1a1a" stroke="#1a1a1a" stroke-width="0.25" font-weight="normal" font-style="normal" textLength="8.10" lengthAdjust="spacingAndGlyphs">40</text>
<line x1="48.50" y1="631.25" x2="51.75" y2="631.25" stroke="#111" stroke-width="1.2"/>
<text x="36.40" y="634.05" font-size="7.8" fill="#1a1a1a" stroke="#1a1a1a" stroke-width="0.25" font-weight="normal" font-style="normal" textLength="8.10" lengthAdjust="spacingAndGlyphs">20</text>
<line x1="48.50" y1="656.75" x2="51.75" y2="656.75" stroke="#111" stroke-width="1.2"/>
<text x="40.50" y="659.55" font-size="7.8" fill="#1a1a1a" stroke="#1a1a1a" stroke-width="0.25" font-weight="normal" font-style="normal" textLength="4.00" lengthAdjust="spacingAndGlyphs">0</text>
<text transform="translate(23.20,610.40) rotate(-90)" x="0" y="0" font-size="9.7" fill="#1a1a1a" stroke="#1a1a1a" stroke-width="0.25" textLength="28.80" lengthAdjust="spacingAndGlyphs">% CFSE</text>
<text transform="translate(20.30,581.30) rotate(-90)" font-size="8.8" fill="#1a1a1a" stroke="#1a1a1a" stroke-width="0.25" textLength="5.80" lengthAdjust="spacingAndGlyphs">lo</text>
<line x1="71.25" y1="641.25" x2="71.25" y2="636.25" stroke="#111" stroke-width="1.4"/>
<line x1="67.00" y1="636.25" x2="75.50" y2="636.25" stroke="#111" stroke-width="1.4"/>
<rect x="63.00" y="641.25" width="16.30" height="15.50" fill="#cdcdcd" stroke="none" stroke-width="0"/>
<line x1="95.38" y1="622.50" x2="95.38" y2="601.75" stroke="#111" stroke-width="1.4"/>
<line x1="91.25" y1="601.75" x2="99.50" y2="601.75" stroke="#111" stroke-width="1.4"/>
<rect x="87.00" y="622.50" width="16.25" height="34.25" fill="#6b6b6b" stroke="none" stroke-width="0"/>
<line x1="119.25" y1="640.30" x2="119.25" y2="627.50" stroke="#111" stroke-width="1.4"/>
<line x1="115.50" y1="627.50" x2="123.00" y2="627.50" stroke="#111" stroke-width="1.4"/>
<rect x="110.75" y="640.30" width="16.45" height="16.45" fill="#000" stroke="none" stroke-width="0"/>
<line x1="159.25" y1="624.25" x2="159.25" y2="622.50" stroke="#111" stroke-width="1.4"/>
<line x1="156.00" y1="622.50" x2="162.50" y2="622.50" stroke="#111" stroke-width="1.4"/>
<rect x="150.75" y="624.25" width="16.75" height="32.50" fill="#cdcdcd" stroke="none" stroke-width="0"/>
<line x1="183.12" y1="588.00" x2="183.12" y2="570.75" stroke="#111" stroke-width="1.4"/>
<line x1="178.75" y1="570.75" x2="187.50" y2="570.75" stroke="#111" stroke-width="1.4"/>
<rect x="174.50" y="588.00" width="16.25" height="68.75" fill="#6b6b6b" stroke="none" stroke-width="0"/>
<line x1="207.12" y1="613.75" x2="207.12" y2="595.50" stroke="#111" stroke-width="1.4"/>
<line x1="203.00" y1="595.50" x2="211.25" y2="595.50" stroke="#111" stroke-width="1.4"/>
<rect x="198.75" y="613.75" width="16.25" height="43.00" fill="#000" stroke="none" stroke-width="0"/>
<line x1="51.10" y1="656.75" x2="227.00" y2="656.75" stroke="#111" stroke-width="1.3"/>
<line x1="53.25" y1="665.30" x2="126.25" y2="665.30" stroke="#111" stroke-width="1.5"/>
<line x1="144.25" y1="665.30" x2="218.00" y2="665.30" stroke="#111" stroke-width="1.5"/>
<text x="80.00" y="677.20" font-size="10" fill="#1a1a1a" stroke="#1a1a1a" stroke-width="0.25" font-weight="normal" font-style="normal" textLength="15.30" lengthAdjust="spacingAndGlyphs">CD4</text>
<text x="96.00" y="674.60" font-size="7" fill="#1a1a1a" stroke="#1a1a1a" stroke-width="0.25" font-weight="normal" font-style="normal" textLength="3.40" lengthAdjust="spacingAndGlyphs">+</text>
<text x="170.75" y="677.40" font-size="10" fill="#1a1a1a" stroke="#1a1a1a" stroke-width="0.25" font-weight="normal" font-style="normal" textLength="15.25" lengthAdjust="spacingAndGlyphs">CD8</text>
<text x="187.10" y="674.80" font-size="7" fill="#1a1a1a" stroke="#1a1a1a" stroke-width="0.25" font-weight="normal" font-style="normal" textLength="3.40" lengthAdjust="spacingAndGlyphs">+</text>
<rect x="72.10" y="459.20" width="14.40" height="7.10" fill="#cdcdcd" stroke="none" stroke-width="0"/>
<rect x="72.10" y="474.60" width="14.40" height="6.70" fill="#6b6b6b" stroke="none" stroke-width="0"/>
<rect x="72.10" y="489.60" width="14.40" height="7.10" fill="#000" stroke="none" stroke-width="0"/>
<text x="89.60" y="466.00" font-size="7.6" fill="#1a1a1a" stroke="#1a1a1a" stroke-width="0.25" font-weight="normal" font-style="normal" textLength="11.30" lengthAdjust="spacingAndGlyphs">WT</text>
<text x="89.60" y="481.40" font-size="7.6" fill="#1a1a1a" stroke="#1a1a1a" stroke-width="0.25" font-weight="normal" font-style="normal" textLength="87.00" lengthAdjust="spacingAndGlyphs">WT plus BTLA antagonist</text>
<text x="89.60" y="496.70" font-size="7.6" fill="#1a1a1a" stroke="#1a1a1a" stroke-width="0.25" font-weight="normal" font-style="normal" textLength="79.40" lengthAdjust="spacingAndGlyphs">WT plus isotype control</text>
<text x="178.90" y="521.80" font-size="7.4" fill="#333" stroke="#333" stroke-width="0.25" font-weight="normal" font-style="normal" textLength="7.80" lengthAdjust="spacingAndGlyphs">ns</text>
<line x1="157.70" y1="528.20" x2="211.00" y2="528.20" stroke="#111" stroke-width="1.3"/>
<line x1="157.70" y1="524.70" x2="157.70" y2="531.60" stroke="#111" stroke-width="1.3"/>
<line x1="211.00" y1="524.70" x2="211.00" y2="531.60" stroke="#111" stroke-width="1.3"/>
<text x="157.50" y="550.70" font-size="7" fill="#333" stroke="#333" stroke-width="0.25" textLength="25.00" lengthAdjust="spacingAndGlyphs"><tspan font-style="italic">P</tspan><tspan font-size="6.65" fill="#555" stroke="#555"> = </tspan>.03</text>
<line x1="157.00" y1="559.25" x2="182.50" y2="559.25" stroke="#111" stroke-width="1.3"/>
<line x1="157.00" y1="556.00" x2="157.00" y2="562.50" stroke="#111" stroke-width="1.3"/>
<line x1="182.50" y1="556.00" x2="182.50" y2="562.50" stroke="#111" stroke-width="1.3"/>
<line x1="310.75" y1="528.75" x2="310.75" y2="657.50" stroke="#111" stroke-width="1.3"/>
<line x1="310.10" y1="657.00" x2="492.40" y2="657.00" stroke="#111" stroke-width="1.3"/>
<line x1="307.50" y1="532.00" x2="310.75" y2="532.00" stroke="#111" stroke-width="1.2"/>
<text x="295.65" y="534.80" font-size="7.8" fill="#1a1a1a" stroke="#1a1a1a" stroke-width="0.25" font-weight="normal" font-style="normal" textLength="8.10" lengthAdjust="spacingAndGlyphs">30</text>
<line x1="307.50" y1="573.75" x2="310.75" y2="573.75" stroke="#111" stroke-width="1.2"/>
<text x="295.65" y="576.55" font-size="7.8" fill="#1a1a1a" stroke="#1a1a1a" stroke-width="0.25" font-weight="normal" font-style="normal" textLength="8.10" lengthAdjust="spacingAndGlyphs">20</text>
<line x1="307.50" y1="615.50" x2="310.75" y2="615.50" stroke="#111" stroke-width="1.2"/>
<text x="295.65" y="618.30" font-size="7.8" fill="#1a1a1a" stroke="#1a1a1a" stroke-width="0.25" font-weight="normal" font-style="normal" textLength="8.10" lengthAdjust="spacingAndGlyphs">10</text>
<line x1="307.50" y1="657.00" x2="310.75" y2="657.00" stroke="#111" stroke-width="1.2"/>
<text x="299.75" y="659.80" font-size="7.8" fill="#1a1a1a" stroke="#1a1a1a" stroke-width="0.25" font-weight="normal" font-style="normal" textLength="4.00" lengthAdjust="spacingAndGlyphs">0</text>
<text transform="translate(288.80,612.60) rotate(-90)" x="0" y="0" font-size="9.7" fill="#1a1a1a" stroke="#1a1a1a" stroke-width="0.25" textLength="30.40" lengthAdjust="spacingAndGlyphs">% CFSE</text>
<text transform="translate(285.90,581.90) rotate(-90)" font-size="8.8" fill="#1a1a1a" stroke="#1a1a1a" stroke-width="0.25" textLength="5.40" lengthAdjust="spacingAndGlyphs">lo</text>
<line x1="332.12" y1="578.25" x2="332.12" y2="551.25" stroke="#111" stroke-width="1.4"/>
<line x1="328.00" y1="551.25" x2="336.25" y2="551.25" stroke="#111" stroke-width="1.4"/>
<rect x="323.75" y="578.25" width="16.75" height="78.75" fill="#cdcdcd" stroke="none" stroke-width="0"/>
<line x1="357.50" y1="601.25" x2="357.50" y2="572.50" stroke="#111" stroke-width="1.4"/>
<line x1="353.75" y1="572.50" x2="361.25" y2="572.50" stroke="#111" stroke-width="1.4"/>
<rect x="348.25" y="601.25" width="16.75" height="55.75" fill="#6b6b6b" stroke="none" stroke-width="0"/>
<line x1="381.75" y1="584.50" x2="381.75" y2="570.00" stroke="#111" stroke-width="1.4"/>
<line x1="378.00" y1="570.00" x2="385.50" y2="570.00" stroke="#111" stroke-width="1.4"/>
<rect x="373.00" y="584.50" width="17.00" height="72.50" fill="#000" stroke="none" stroke-width="0"/>
<line x1="423.00" y1="595.30" x2="423.00" y2="565.20" stroke="#111" stroke-width="1.4"/>
<line x1="418.70" y1="565.20" x2="427.30" y2="565.20" stroke="#111" stroke-width="1.4"/>
<rect x="414.40" y="595.30" width="17.20" height="61.70" fill="#cdcdcd" stroke="none" stroke-width="0"/>
<line x1="447.50" y1="608.20" x2="447.50" y2="578.40" stroke="#111" stroke-width="1.4"/>
<line x1="443.50" y1="578.40" x2="451.50" y2="578.40" stroke="#111" stroke-width="1.4"/>
<rect x="439.40" y="608.20" width="16.60" height="48.80" fill="#6b6b6b" stroke="none" stroke-width="0"/>
<line x1="472.50" y1="594.20" x2="472.50" y2="566.60" stroke="#111" stroke-width="1.4"/>
<line x1="468.50" y1="566.60" x2="476.50" y2="566.60" stroke="#111" stroke-width="1.4"/>
<rect x="464.00" y="594.20" width="16.70" height="62.80" fill="#000" stroke="none" stroke-width="0"/>
<line x1="310.10" y1="657.00" x2="492.40" y2="657.00" stroke="#111" stroke-width="1.3"/>
<line x1="323.75" y1="664.80" x2="396.30" y2="664.80" stroke="#111" stroke-width="1.5"/>
<line x1="415.30" y1="664.80" x2="487.60" y2="664.80" stroke="#111" stroke-width="1.5"/>
<text x="346.25" y="677.20" font-size="10" fill="#1a1a1a" stroke="#1a1a1a" stroke-width="0.25" font-weight="normal" font-style="normal" textLength="15.25" lengthAdjust="spacingAndGlyphs">CD4</text>
<text x="362.40" y="674.60" font-size="7" fill="#1a1a1a" stroke="#1a1a1a" stroke-width="0.25" font-weight="normal" font-style="normal" textLength="3.40" lengthAdjust="spacingAndGlyphs">+</text>
<text x="437.30" y="677.40" font-size="10" fill="#1a1a1a" stroke="#1a1a1a" stroke-width="0.25" font-weight="normal" font-style="normal" textLength="15.30" lengthAdjust="spacingAndGlyphs">CD8</text>
<text x="453.70" y="674.80" font-size="7" fill="#1a1a1a" stroke="#1a1a1a" stroke-width="0.25" font-weight="normal" font-style="normal" textLength="3.40" lengthAdjust="spacingAndGlyphs">+</text>
<rect x="317.50" y="457.50" width="14.25" height="7.00" fill="#cdcdcd" stroke="none" stroke-width="0"/>
<rect x="317.50" y="473.00" width="14.25" height="7.00" fill="#6b6b6b" stroke="none" stroke-width="0"/>
<rect x="317.50" y="488.75" width="14.25" height="6.75" fill="#000" stroke="none" stroke-width="0"/>
<text x="335.00" y="464.00" font-size="7.6" fill="#1a1a1a" stroke="#1a1a1a" stroke-width="0.25" font-weight="normal" font-style="normal" textLength="34.50" lengthAdjust="spacingAndGlyphs">Aberration</text>
<text x="335.00" y="479.80" font-size="7.6" fill="#1a1a1a" stroke="#1a1a1a" stroke-width="0.25" font-weight="normal" font-style="normal" textLength="116.00" lengthAdjust="spacingAndGlyphs">Aberration plus plus BTLA agonist</text>
<text x="335.00" y="495.30" font-size="7.6" fill="#1a1a1a" stroke="#1a1a1a" stroke-width="0.25" font-weight="normal" font-style="normal" textLength="102.50" lengthAdjust="spacingAndGlyphs">Aberration plus isotype control</text>
<text x="355.75" y="508.50" font-size="7.4" fill="#333" stroke="#333" stroke-width="0.25" font-weight="normal" font-style="normal" textLength="7.25" lengthAdjust="spacingAndGlyphs">ns</text>
<line x1="333.25" y1="514.25" x2="387.50" y2="514.25" stroke="#111" stroke-width="1.3"/>
<line x1="333.25" y1="511.00" x2="333.25" y2="517.50" stroke="#111" stroke-width="1.3"/>
<line x1="387.50" y1="511.00" x2="387.50" y2="517.50" stroke="#111" stroke-width="1.3"/>
<text x="444.50" y="508.10" font-size="7.4" fill="#333" stroke="#333" stroke-width="0.25" font-weight="normal" font-style="normal" textLength="7.20" lengthAdjust="spacingAndGlyphs">ns</text>
<line x1="422.40" y1="515.30" x2="476.00" y2="515.30" stroke="#111" stroke-width="1.3"/>
<line x1="422.40" y1="512.00" x2="422.40" y2="518.60" stroke="#111" stroke-width="1.3"/>
<line x1="476.00" y1="512.00" x2="476.00" y2="518.60" stroke="#111" stroke-width="1.3"/>
<text x="333.00" y="535.80" font-size="7" fill="#333" stroke="#333" stroke-width="0.25" textLength="23.25" lengthAdjust="spacingAndGlyphs"><tspan font-style="italic">P</tspan><tspan font-size="5.60" fill="#666" stroke="#666"> = </tspan>.03</text>
<line x1="332.50" y1="545.50" x2="358.25" y2="545.50" stroke="#111" stroke-width="1.3"/>
<line x1="332.50" y1="542.50" x2="332.50" y2="548.75" stroke="#111" stroke-width="1.3"/>
<line x1="358.25" y1="542.50" x2="358.25" y2="548.75" stroke="#111" stroke-width="1.3"/>
<text x="422.40" y="536.10" font-size="7" fill="#333" stroke="#333" stroke-width="0.25" textLength="23.60" lengthAdjust="spacingAndGlyphs"><tspan font-style="italic">P</tspan><tspan font-size="5.60" fill="#666" stroke="#666"> = </tspan>.10</text>
<line x1="422.40" y1="545.40" x2="447.40" y2="545.40" stroke="#111" stroke-width="1.3"/>
<line x1="422.40" y1="542.20" x2="422.40" y2="548.60" stroke="#111" stroke-width="1.3"/>
<line x1="447.40" y1="542.20" x2="447.40" y2="548.60" stroke="#111" stroke-width="1.3"/>
</svg>
</body></html>
